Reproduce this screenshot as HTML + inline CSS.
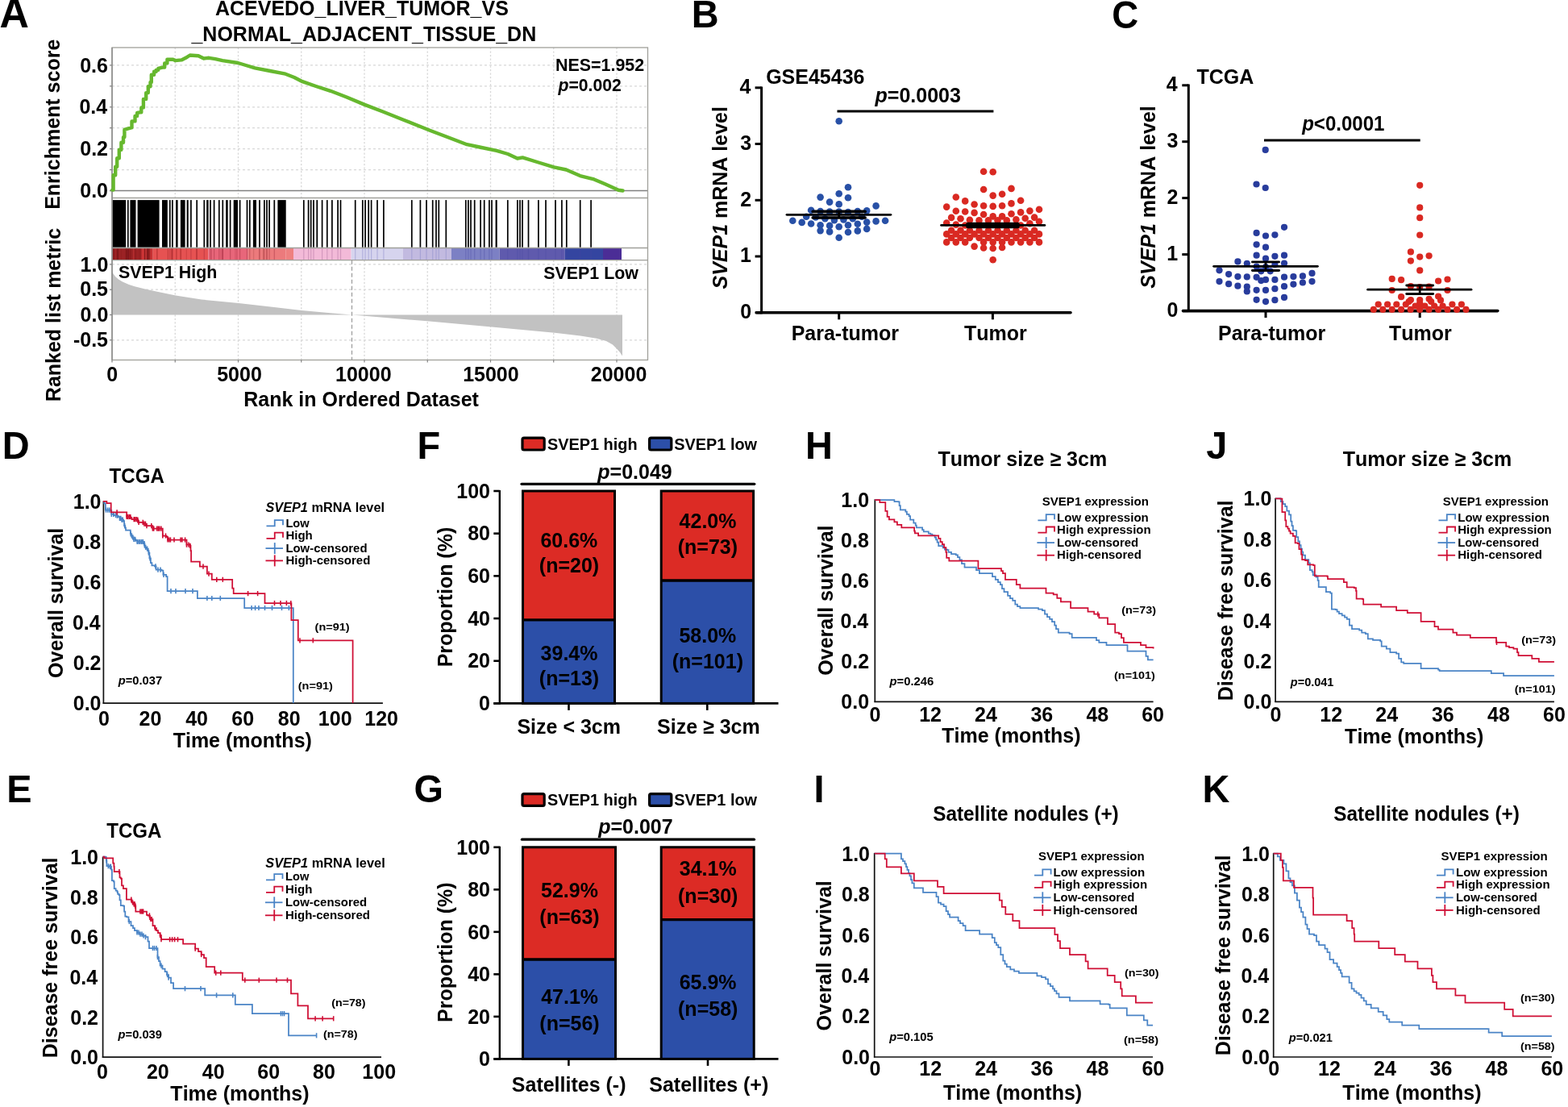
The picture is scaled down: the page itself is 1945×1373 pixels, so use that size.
<!DOCTYPE html>
<html><head><meta charset="utf-8"><title>Figure</title>
<style>
html,body{margin:0;padding:0;background:#fff;overflow:hidden;}
svg{display:block;}
text{font-family:"Liberation Sans",Arial,Helvetica,sans-serif;font-weight:bold;font-kerning:none;}
</style></head>
<body>
<svg width="1945" height="1373" viewBox="0 0 1945 1373">
<rect x="0" y="0" width="1945" height="1373" fill="#fff"/>
<g id="A">
<text transform="translate(-0.55 34.40) scale(1.0000 1.040)" font-size="50.38">A</text>
<text transform="translate(266.94 19.00) scale(1.0000 1.040)" font-size="25.00">ACEVEDO_LIVER_TUMOR_VS</text>
<text transform="translate(237.44 50.80) scale(1.0000 1.040)" font-size="25.00">_NORMAL_ADJACENT_TISSUE_DN</text>
<line x1="217.25" y1="59.00" x2="217.25" y2="245.50" stroke="#d8d8d8" stroke-width="1.30" stroke-dasharray="2.2 2.3"/>
<line x1="217.25" y1="322.70" x2="217.25" y2="446.50" stroke="#d8d8d8" stroke-width="1.30" stroke-dasharray="2.2 2.3"/>
<line x1="295.50" y1="59.00" x2="295.50" y2="245.50" stroke="#d8d8d8" stroke-width="1.30" stroke-dasharray="2.2 2.3"/>
<line x1="295.50" y1="322.70" x2="295.50" y2="446.50" stroke="#d8d8d8" stroke-width="1.30" stroke-dasharray="2.2 2.3"/>
<line x1="373.75" y1="59.00" x2="373.75" y2="245.50" stroke="#d8d8d8" stroke-width="1.30" stroke-dasharray="2.2 2.3"/>
<line x1="373.75" y1="322.70" x2="373.75" y2="446.50" stroke="#d8d8d8" stroke-width="1.30" stroke-dasharray="2.2 2.3"/>
<line x1="452.00" y1="59.00" x2="452.00" y2="245.50" stroke="#d8d8d8" stroke-width="1.30" stroke-dasharray="2.2 2.3"/>
<line x1="452.00" y1="322.70" x2="452.00" y2="446.50" stroke="#d8d8d8" stroke-width="1.30" stroke-dasharray="2.2 2.3"/>
<line x1="530.25" y1="59.00" x2="530.25" y2="245.50" stroke="#d8d8d8" stroke-width="1.30" stroke-dasharray="2.2 2.3"/>
<line x1="530.25" y1="322.70" x2="530.25" y2="446.50" stroke="#d8d8d8" stroke-width="1.30" stroke-dasharray="2.2 2.3"/>
<line x1="608.50" y1="59.00" x2="608.50" y2="245.50" stroke="#d8d8d8" stroke-width="1.30" stroke-dasharray="2.2 2.3"/>
<line x1="608.50" y1="322.70" x2="608.50" y2="446.50" stroke="#d8d8d8" stroke-width="1.30" stroke-dasharray="2.2 2.3"/>
<line x1="686.75" y1="59.00" x2="686.75" y2="245.50" stroke="#d8d8d8" stroke-width="1.30" stroke-dasharray="2.2 2.3"/>
<line x1="686.75" y1="322.70" x2="686.75" y2="446.50" stroke="#d8d8d8" stroke-width="1.30" stroke-dasharray="2.2 2.3"/>
<line x1="765.00" y1="59.00" x2="765.00" y2="245.50" stroke="#d8d8d8" stroke-width="1.30" stroke-dasharray="2.2 2.3"/>
<line x1="765.00" y1="322.70" x2="765.00" y2="446.50" stroke="#d8d8d8" stroke-width="1.30" stroke-dasharray="2.2 2.3"/>
<line x1="139.00" y1="210.57" x2="803.50" y2="210.57" stroke="#d8d8d8" stroke-width="1.30" stroke-dasharray="3 3"/>
<line x1="139.00" y1="184.64" x2="803.50" y2="184.64" stroke="#d8d8d8" stroke-width="1.30" stroke-dasharray="3 3"/>
<line x1="139.00" y1="158.71" x2="803.50" y2="158.71" stroke="#d8d8d8" stroke-width="1.30" stroke-dasharray="3 3"/>
<line x1="139.00" y1="132.78" x2="803.50" y2="132.78" stroke="#d8d8d8" stroke-width="1.30" stroke-dasharray="3 3"/>
<line x1="139.00" y1="106.85" x2="803.50" y2="106.85" stroke="#d8d8d8" stroke-width="1.30" stroke-dasharray="3 3"/>
<line x1="139.00" y1="80.92" x2="803.50" y2="80.92" stroke="#d8d8d8" stroke-width="1.30" stroke-dasharray="3 3"/>
<line x1="139.00" y1="327.90" x2="803.50" y2="327.90" stroke="#d8d8d8" stroke-width="1.30" stroke-dasharray="3 3"/>
<line x1="139.00" y1="359.20" x2="803.50" y2="359.20" stroke="#d8d8d8" stroke-width="1.30" stroke-dasharray="3 3"/>
<line x1="139.00" y1="421.80" x2="803.50" y2="421.80" stroke="#d8d8d8" stroke-width="1.30" stroke-dasharray="3 3"/>
<line x1="136.00" y1="236.50" x2="803.50" y2="236.50" stroke="#808080" stroke-width="1.30"/>
<rect x="139.10" y="248.10" width="17.10" height="58.70" fill="#000"/>
<rect x="161.40" y="248.10" width="7.10" height="58.70" fill="#000"/>
<rect x="170.60" y="248.10" width="27.00" height="58.70" fill="#000"/>
<rect x="201.00" y="248.10" width="6.80" height="58.70" fill="#000"/>
<rect x="218.10" y="248.10" width="2.50" height="58.70" fill="#000"/>
<rect x="223.90" y="248.10" width="5.70" height="58.70" fill="#000"/>
<rect x="231.70" y="248.10" width="2.00" height="58.70" fill="#000"/>
<rect x="256.20" y="248.10" width="2.40" height="58.70" fill="#000"/>
<rect x="280.20" y="248.10" width="2.50" height="58.70" fill="#000"/>
<rect x="289.70" y="248.10" width="5.30" height="58.70" fill="#000"/>
<rect x="313.90" y="248.10" width="4.10" height="58.70" fill="#000"/>
<rect x="344.40" y="248.10" width="10.30" height="58.70" fill="#000"/>
<rect x="392.40" y="248.10" width="1.80" height="58.70" fill="#000"/>
<rect x="614.60" y="248.10" width="2.10" height="58.70" fill="#000"/>
<rect x="157.95" y="248.10" width="1.70" height="58.70" fill="#000"/>
<rect x="209.95" y="248.10" width="1.70" height="58.70" fill="#000"/>
<rect x="213.05" y="248.10" width="1.70" height="58.70" fill="#000"/>
<rect x="236.05" y="248.10" width="1.70" height="58.70" fill="#000"/>
<rect x="243.35" y="248.10" width="1.70" height="58.70" fill="#000"/>
<rect x="252.45" y="248.10" width="1.70" height="58.70" fill="#000"/>
<rect x="260.15" y="248.10" width="1.70" height="58.70" fill="#000"/>
<rect x="264.75" y="248.10" width="1.70" height="58.70" fill="#000"/>
<rect x="270.95" y="248.10" width="1.70" height="58.70" fill="#000"/>
<rect x="275.45" y="248.10" width="1.70" height="58.70" fill="#000"/>
<rect x="284.75" y="248.10" width="1.70" height="58.70" fill="#000"/>
<rect x="296.75" y="248.10" width="1.70" height="58.70" fill="#000"/>
<rect x="305.65" y="248.10" width="1.70" height="58.70" fill="#000"/>
<rect x="308.95" y="248.10" width="1.70" height="58.70" fill="#000"/>
<rect x="321.15" y="248.10" width="1.70" height="58.70" fill="#000"/>
<rect x="327.05" y="248.10" width="1.70" height="58.70" fill="#000"/>
<rect x="330.15" y="248.10" width="1.70" height="58.70" fill="#000"/>
<rect x="333.25" y="248.10" width="1.70" height="58.70" fill="#000"/>
<rect x="339.45" y="248.10" width="1.70" height="58.70" fill="#000"/>
<rect x="375.95" y="248.10" width="1.70" height="58.70" fill="#000"/>
<rect x="381.75" y="248.10" width="1.70" height="58.70" fill="#000"/>
<rect x="384.85" y="248.10" width="1.70" height="58.70" fill="#000"/>
<rect x="388.15" y="248.10" width="1.70" height="58.70" fill="#000"/>
<rect x="398.75" y="248.10" width="1.70" height="58.70" fill="#000"/>
<rect x="404.95" y="248.10" width="1.70" height="58.70" fill="#000"/>
<rect x="411.05" y="248.10" width="1.70" height="58.70" fill="#000"/>
<rect x="418.25" y="248.10" width="1.70" height="58.70" fill="#000"/>
<rect x="421.65" y="248.10" width="1.70" height="58.70" fill="#000"/>
<rect x="439.85" y="248.10" width="1.70" height="58.70" fill="#000"/>
<rect x="448.95" y="248.10" width="1.70" height="58.70" fill="#000"/>
<rect x="452.25" y="248.10" width="1.70" height="58.70" fill="#000"/>
<rect x="456.35" y="248.10" width="1.70" height="58.70" fill="#000"/>
<rect x="459.75" y="248.10" width="1.70" height="58.70" fill="#000"/>
<rect x="467.15" y="248.10" width="1.70" height="58.70" fill="#000"/>
<rect x="475.05" y="248.10" width="1.70" height="58.70" fill="#000"/>
<rect x="509.95" y="248.10" width="1.70" height="58.70" fill="#000"/>
<rect x="520.55" y="248.10" width="1.70" height="58.70" fill="#000"/>
<rect x="528.15" y="248.10" width="1.70" height="58.70" fill="#000"/>
<rect x="535.85" y="248.10" width="1.70" height="58.70" fill="#000"/>
<rect x="540.15" y="248.10" width="1.70" height="58.70" fill="#000"/>
<rect x="543.45" y="248.10" width="1.70" height="58.70" fill="#000"/>
<rect x="552.45" y="248.10" width="1.70" height="58.70" fill="#000"/>
<rect x="576.95" y="248.10" width="1.70" height="58.70" fill="#000"/>
<rect x="580.05" y="248.10" width="1.70" height="58.70" fill="#000"/>
<rect x="583.15" y="248.10" width="1.70" height="58.70" fill="#000"/>
<rect x="587.85" y="248.10" width="1.70" height="58.70" fill="#000"/>
<rect x="595.25" y="248.10" width="1.70" height="58.70" fill="#000"/>
<rect x="599.85" y="248.10" width="1.70" height="58.70" fill="#000"/>
<rect x="606.05" y="248.10" width="1.70" height="58.70" fill="#000"/>
<rect x="609.15" y="248.10" width="1.70" height="58.70" fill="#000"/>
<rect x="628.95" y="248.10" width="1.70" height="58.70" fill="#000"/>
<rect x="641.05" y="248.10" width="1.70" height="58.70" fill="#000"/>
<rect x="644.15" y="248.10" width="1.70" height="58.70" fill="#000"/>
<rect x="647.15" y="248.10" width="1.70" height="58.70" fill="#000"/>
<rect x="654.65" y="248.10" width="1.70" height="58.70" fill="#000"/>
<rect x="667.05" y="248.10" width="1.70" height="58.70" fill="#000"/>
<rect x="676.15" y="248.10" width="1.70" height="58.70" fill="#000"/>
<rect x="688.15" y="248.10" width="1.70" height="58.70" fill="#000"/>
<rect x="696.05" y="248.10" width="1.70" height="58.70" fill="#000"/>
<rect x="701.95" y="248.10" width="1.70" height="58.70" fill="#000"/>
<rect x="718.85" y="248.10" width="1.70" height="58.70" fill="#000"/>
<rect x="732.25" y="248.10" width="1.70" height="58.70" fill="#000"/>
<rect x="139.00" y="307.50" width="50.30" height="15.20" fill="#ad2a2c"/>
<rect x="189.30" y="307.50" width="69.20" height="15.20" fill="#e65252"/>
<rect x="258.50" y="307.50" width="49.30" height="15.20" fill="#e8667a"/>
<rect x="307.80" y="307.50" width="46.90" height="15.20" fill="#ec7a7c"/>
<rect x="354.70" y="307.50" width="9.30" height="15.20" fill="#ee8080"/>
<rect x="364.00" y="307.50" width="71.60" height="15.20" fill="#f3bad8"/>
<rect x="435.60" y="307.50" width="64.00" height="15.20" fill="#d6d4ee"/>
<rect x="499.60" y="307.50" width="60.30" height="15.20" fill="#c2bae0"/>
<rect x="559.90" y="307.50" width="59.70" height="15.20" fill="#7c80c4"/>
<rect x="619.60" y="307.50" width="81.20" height="15.20" fill="#5f5aad"/>
<rect x="700.80" y="307.50" width="47.20" height="15.20" fill="#3445a0"/>
<rect x="748.00" y="307.50" width="23.00" height="15.20" fill="#4b2d96"/>
<rect x="139.00" y="307.50" width="1.38" height="15.20" fill="#8e1c1e"/>
<rect x="140.38" y="307.50" width="1.51" height="15.20" fill="#7e1618"/>
<rect x="141.89" y="307.50" width="0.93" height="15.20" fill="#9a2224"/>
<rect x="142.82" y="307.50" width="0.97" height="15.20" fill="#9a2224"/>
<rect x="143.79" y="307.50" width="0.90" height="15.20" fill="#9a2224"/>
<rect x="144.70" y="307.50" width="1.19" height="15.20" fill="#7e1618"/>
<rect x="145.88" y="307.50" width="1.58" height="15.20" fill="#7e1618"/>
<rect x="147.46" y="307.50" width="1.23" height="15.20" fill="#9a2224"/>
<rect x="148.70" y="307.50" width="1.56" height="15.20" fill="#9a2224"/>
<rect x="150.26" y="307.50" width="1.02" height="15.20" fill="#8e1c1e"/>
<rect x="151.28" y="307.50" width="1.94" height="15.20" fill="#9a2224"/>
<rect x="153.22" y="307.50" width="2.51" height="15.20" fill="#9a2224"/>
<rect x="155.73" y="307.50" width="1.85" height="15.20" fill="#7e1618"/>
<rect x="157.58" y="307.50" width="2.56" height="15.20" fill="#7e1618"/>
<rect x="160.14" y="307.50" width="1.80" height="15.20" fill="#8e1c1e"/>
<rect x="161.94" y="307.50" width="1.32" height="15.20" fill="#8e1c1e"/>
<rect x="163.26" y="307.50" width="1.77" height="15.20" fill="#9a2224"/>
<rect x="165.03" y="307.50" width="1.36" height="15.20" fill="#b83030"/>
<rect x="166.39" y="307.50" width="1.13" height="15.20" fill="#9a2224"/>
<rect x="167.51" y="307.50" width="1.83" height="15.20" fill="#8e1c1e"/>
<rect x="169.34" y="307.50" width="1.47" height="15.20" fill="#9a2224"/>
<rect x="170.81" y="307.50" width="2.08" height="15.20" fill="#9a2224"/>
<rect x="172.89" y="307.50" width="0.91" height="15.20" fill="#8e1c1e"/>
<rect x="173.80" y="307.50" width="1.69" height="15.20" fill="#9a2224"/>
<rect x="175.50" y="307.50" width="1.57" height="15.20" fill="#c83234"/>
<rect x="177.07" y="307.50" width="1.64" height="15.20" fill="#d83a3a"/>
<rect x="178.70" y="307.50" width="1.45" height="15.20" fill="#8e1c1e"/>
<rect x="180.15" y="307.50" width="2.23" height="15.20" fill="#b83030"/>
<rect x="182.38" y="307.50" width="2.20" height="15.20" fill="#7e1618"/>
<rect x="184.59" y="307.50" width="1.83" height="15.20" fill="#9a2224"/>
<rect x="186.42" y="307.50" width="1.69" height="15.20" fill="#c83234"/>
<rect x="188.11" y="307.50" width="1.19" height="15.20" fill="#c83234"/>
<rect x="230.83" y="307.50" width="0.77" height="15.20" fill="#a82a2a" opacity="0.50"/>
<rect x="224.21" y="307.50" width="0.85" height="15.20" fill="#a82a2a" opacity="0.50"/>
<rect x="212.63" y="307.50" width="1.54" height="15.20" fill="#a82a2a" opacity="0.50"/>
<rect x="218.06" y="307.50" width="1.57" height="15.20" fill="#a82a2a" opacity="0.50"/>
<rect x="194.59" y="307.50" width="1.20" height="15.20" fill="#a82a2a" opacity="0.50"/>
<rect x="243.12" y="307.50" width="1.44" height="15.20" fill="#a82a2a" opacity="0.50"/>
<rect x="212.50" y="307.50" width="1.02" height="15.20" fill="#a82a2a" opacity="0.50"/>
<rect x="223.17" y="307.50" width="1.42" height="15.20" fill="#a82a2a" opacity="0.50"/>
<rect x="193.99" y="307.50" width="0.78" height="15.20" fill="#a82a2a" opacity="0.50"/>
<rect x="207.71" y="307.50" width="1.33" height="15.20" fill="#a82a2a" opacity="0.50"/>
<rect x="261.64" y="307.50" width="1.36" height="15.20" fill="#b83c50" opacity="0.45"/>
<rect x="273.45" y="307.50" width="1.22" height="15.20" fill="#b83c50" opacity="0.45"/>
<rect x="291.40" y="307.50" width="1.10" height="15.20" fill="#b83c50" opacity="0.45"/>
<rect x="293.11" y="307.50" width="1.50" height="15.20" fill="#b83c50" opacity="0.45"/>
<rect x="275.26" y="307.50" width="1.55" height="15.20" fill="#b83c50" opacity="0.45"/>
<rect x="275.67" y="307.50" width="1.25" height="15.20" fill="#b83c50" opacity="0.45"/>
<rect x="330.46" y="307.50" width="0.90" height="15.20" fill="#b85050" opacity="0.45"/>
<rect x="320.99" y="307.50" width="1.36" height="15.20" fill="#b85050" opacity="0.45"/>
<rect x="326.06" y="307.50" width="1.53" height="15.20" fill="#b85050" opacity="0.45"/>
<rect x="330.59" y="307.50" width="0.85" height="15.20" fill="#b85050" opacity="0.45"/>
<rect x="326.24" y="307.50" width="0.95" height="15.20" fill="#b85050" opacity="0.45"/>
<rect x="314.08" y="307.50" width="1.09" height="15.20" fill="#b85050" opacity="0.45"/>
<rect x="158.20" y="307.50" width="1.20" height="15.20" fill="#902030" opacity="0.35"/>
<rect x="210.20" y="307.50" width="1.20" height="15.20" fill="#902030" opacity="0.35"/>
<rect x="213.30" y="307.50" width="1.20" height="15.20" fill="#902030" opacity="0.35"/>
<rect x="236.30" y="307.50" width="1.20" height="15.20" fill="#902030" opacity="0.35"/>
<rect x="243.60" y="307.50" width="1.20" height="15.20" fill="#902030" opacity="0.35"/>
<rect x="252.70" y="307.50" width="1.20" height="15.20" fill="#902030" opacity="0.35"/>
<rect x="260.40" y="307.50" width="1.20" height="15.20" fill="#902030" opacity="0.35"/>
<rect x="265.00" y="307.50" width="1.20" height="15.20" fill="#902030" opacity="0.35"/>
<rect x="271.20" y="307.50" width="1.20" height="15.20" fill="#902030" opacity="0.35"/>
<rect x="275.70" y="307.50" width="1.20" height="15.20" fill="#902030" opacity="0.35"/>
<rect x="285.00" y="307.50" width="1.20" height="15.20" fill="#902030" opacity="0.35"/>
<rect x="297.00" y="307.50" width="1.20" height="15.20" fill="#902030" opacity="0.35"/>
<rect x="305.90" y="307.50" width="1.20" height="15.20" fill="#902030" opacity="0.35"/>
<rect x="309.20" y="307.50" width="1.20" height="15.20" fill="#902030" opacity="0.35"/>
<rect x="321.40" y="307.50" width="1.20" height="15.20" fill="#902030" opacity="0.35"/>
<rect x="327.30" y="307.50" width="1.20" height="15.20" fill="#902030" opacity="0.35"/>
<rect x="330.40" y="307.50" width="1.20" height="15.20" fill="#902030" opacity="0.35"/>
<rect x="333.50" y="307.50" width="1.20" height="15.20" fill="#902030" opacity="0.35"/>
<rect x="339.70" y="307.50" width="1.20" height="15.20" fill="#902030" opacity="0.35"/>
<rect x="376.20" y="307.50" width="1.20" height="15.20" fill="#b070a0" opacity="0.45"/>
<rect x="382.00" y="307.50" width="1.20" height="15.20" fill="#b070a0" opacity="0.45"/>
<rect x="385.10" y="307.50" width="1.20" height="15.20" fill="#b070a0" opacity="0.45"/>
<rect x="388.40" y="307.50" width="1.20" height="15.20" fill="#b070a0" opacity="0.45"/>
<rect x="399.00" y="307.50" width="1.20" height="15.20" fill="#b070a0" opacity="0.45"/>
<rect x="405.20" y="307.50" width="1.20" height="15.20" fill="#b070a0" opacity="0.45"/>
<rect x="411.30" y="307.50" width="1.20" height="15.20" fill="#b070a0" opacity="0.45"/>
<rect x="418.50" y="307.50" width="1.20" height="15.20" fill="#b070a0" opacity="0.45"/>
<rect x="421.90" y="307.50" width="1.20" height="15.20" fill="#b070a0" opacity="0.45"/>
<rect x="440.10" y="307.50" width="1.20" height="15.20" fill="#8888c8" opacity="0.45"/>
<rect x="449.20" y="307.50" width="1.20" height="15.20" fill="#8888c8" opacity="0.45"/>
<rect x="452.50" y="307.50" width="1.20" height="15.20" fill="#8888c8" opacity="0.45"/>
<rect x="456.60" y="307.50" width="1.20" height="15.20" fill="#8888c8" opacity="0.45"/>
<rect x="460.00" y="307.50" width="1.20" height="15.20" fill="#8888c8" opacity="0.45"/>
<rect x="467.40" y="307.50" width="1.20" height="15.20" fill="#8888c8" opacity="0.45"/>
<rect x="475.30" y="307.50" width="1.20" height="15.20" fill="#8888c8" opacity="0.45"/>
<rect x="510.20" y="307.50" width="1.20" height="15.20" fill="#8888c8" opacity="0.45"/>
<rect x="520.80" y="307.50" width="1.20" height="15.20" fill="#8888c8" opacity="0.45"/>
<rect x="528.40" y="307.50" width="1.20" height="15.20" fill="#8888c8" opacity="0.45"/>
<rect x="536.10" y="307.50" width="1.20" height="15.20" fill="#8888c8" opacity="0.45"/>
<rect x="540.40" y="307.50" width="1.20" height="15.20" fill="#8888c8" opacity="0.45"/>
<rect x="543.70" y="307.50" width="1.20" height="15.20" fill="#8888c8" opacity="0.45"/>
<rect x="552.70" y="307.50" width="1.20" height="15.20" fill="#8888c8" opacity="0.45"/>
<rect x="577.20" y="307.50" width="1.20" height="15.20" fill="#4848a0" opacity="0.35"/>
<rect x="580.30" y="307.50" width="1.20" height="15.20" fill="#4848a0" opacity="0.35"/>
<rect x="583.40" y="307.50" width="1.20" height="15.20" fill="#4848a0" opacity="0.35"/>
<rect x="588.10" y="307.50" width="1.20" height="15.20" fill="#4848a0" opacity="0.35"/>
<rect x="595.50" y="307.50" width="1.20" height="15.20" fill="#4848a0" opacity="0.35"/>
<rect x="600.10" y="307.50" width="1.20" height="15.20" fill="#4848a0" opacity="0.35"/>
<rect x="606.30" y="307.50" width="1.20" height="15.20" fill="#4848a0" opacity="0.35"/>
<rect x="609.40" y="307.50" width="1.20" height="15.20" fill="#4848a0" opacity="0.35"/>
<rect x="629.20" y="307.50" width="1.20" height="15.20" fill="#4848a0" opacity="0.35"/>
<rect x="641.30" y="307.50" width="1.20" height="15.20" fill="#4848a0" opacity="0.35"/>
<rect x="644.40" y="307.50" width="1.20" height="15.20" fill="#4848a0" opacity="0.35"/>
<rect x="647.40" y="307.50" width="1.20" height="15.20" fill="#4848a0" opacity="0.35"/>
<rect x="654.90" y="307.50" width="1.20" height="15.20" fill="#4848a0" opacity="0.35"/>
<rect x="667.30" y="307.50" width="1.20" height="15.20" fill="#4848a0" opacity="0.35"/>
<rect x="676.40" y="307.50" width="1.20" height="15.20" fill="#4848a0" opacity="0.35"/>
<rect x="688.40" y="307.50" width="1.20" height="15.20" fill="#4848a0" opacity="0.35"/>
<rect x="696.30" y="307.50" width="1.20" height="15.20" fill="#4848a0" opacity="0.35"/>
<rect x="702.20" y="307.50" width="1.20" height="15.20" fill="#4848a0" opacity="0.35"/>
<rect x="719.10" y="307.50" width="1.20" height="15.20" fill="#4848a0" opacity="0.35"/>
<rect x="732.50" y="307.50" width="1.20" height="15.20" fill="#4848a0" opacity="0.35"/>
<polygon points="139.0,337.0 140.5,339.5 143.0,343.0 147.0,346.5 152.0,349.5 160.0,353.0 167.0,355.3 180.0,358.5 195.0,361.8 218.0,366.5 250.0,371.5 296.0,376.0 340.0,381.0 374.0,385.0 410.0,388.3 436.5,390.5 452.0,391.8 530.0,398.3 610.0,405.6 688.0,412.8 720.0,416.5 740.0,419.8 752.0,423.0 760.0,427.5 765.0,432.5 769.0,437.0 772.0,441.6 772.0,390.5 139.0,390.5" fill="#c2c2c2"/>
<line x1="436.50" y1="322.70" x2="436.50" y2="446.50" stroke="#9a9a9a" stroke-width="1.20" stroke-dasharray="5 3"/>
<rect x="139.0" y="59.0" width="664.5" height="387.5" fill="none" stroke="#a0a09a" stroke-width="1.3"/>
<line x1="139.00" y1="245.50" x2="803.50" y2="245.50" stroke="#a0a09a" stroke-width="1.30"/>
<line x1="139.00" y1="307.50" x2="803.50" y2="307.50" stroke="#a0a09a" stroke-width="1.30"/>
<line x1="139.00" y1="322.70" x2="803.50" y2="322.70" stroke="#a0a09a" stroke-width="1.30"/>
<line x1="139.00" y1="59.00" x2="139.00" y2="446.50" stroke="#8a8a8a" stroke-width="1.40"/>
<line x1="136.00" y1="236.50" x2="139.00" y2="236.50" stroke="#808080" stroke-width="1.20"/>
<line x1="136.00" y1="210.57" x2="139.00" y2="210.57" stroke="#808080" stroke-width="1.20"/>
<line x1="136.00" y1="184.64" x2="139.00" y2="184.64" stroke="#808080" stroke-width="1.20"/>
<line x1="136.00" y1="158.71" x2="139.00" y2="158.71" stroke="#808080" stroke-width="1.20"/>
<line x1="136.00" y1="132.78" x2="139.00" y2="132.78" stroke="#808080" stroke-width="1.20"/>
<line x1="136.00" y1="106.85" x2="139.00" y2="106.85" stroke="#808080" stroke-width="1.20"/>
<line x1="136.00" y1="80.92" x2="139.00" y2="80.92" stroke="#808080" stroke-width="1.20"/>
<line x1="136.00" y1="327.90" x2="139.00" y2="327.90" stroke="#808080" stroke-width="1.20"/>
<line x1="136.00" y1="359.20" x2="139.00" y2="359.20" stroke="#808080" stroke-width="1.20"/>
<line x1="136.00" y1="390.50" x2="139.00" y2="390.50" stroke="#808080" stroke-width="1.20"/>
<line x1="136.00" y1="421.80" x2="139.00" y2="421.80" stroke="#808080" stroke-width="1.20"/>
<line x1="139.00" y1="446.50" x2="139.00" y2="449.50" stroke="#808080" stroke-width="1.20"/>
<line x1="217.25" y1="446.50" x2="217.25" y2="449.50" stroke="#808080" stroke-width="1.20"/>
<line x1="295.50" y1="446.50" x2="295.50" y2="449.50" stroke="#808080" stroke-width="1.20"/>
<line x1="373.75" y1="446.50" x2="373.75" y2="449.50" stroke="#808080" stroke-width="1.20"/>
<line x1="452.00" y1="446.50" x2="452.00" y2="449.50" stroke="#808080" stroke-width="1.20"/>
<line x1="530.25" y1="446.50" x2="530.25" y2="449.50" stroke="#808080" stroke-width="1.20"/>
<line x1="608.50" y1="446.50" x2="608.50" y2="449.50" stroke="#808080" stroke-width="1.20"/>
<line x1="686.75" y1="446.50" x2="686.75" y2="449.50" stroke="#808080" stroke-width="1.20"/>
<line x1="765.00" y1="446.50" x2="765.00" y2="449.50" stroke="#808080" stroke-width="1.20"/>
<polyline points="139.30,235.60 140.60,235.60 140.60,217.30 143.20,217.30 143.20,206.80 145.20,206.80 145.20,196.30 147.80,196.30 147.80,185.80 150.40,185.80 150.40,176.70 153.00,176.70 153.00,170.10 154.40,170.10 154.40,160.90 158.30,159.60 162.90,158.30 163.50,158.30 163.50,150.40 167.50,150.40 167.50,143.90 170.10,143.90 170.10,140.00 173.40,139.30 175.30,139.30 175.30,133.40 177.90,133.40 177.90,122.90 181.20,122.90 181.20,115.10 183.80,115.10 183.80,107.20 186.50,107.20 186.50,101.90 187.80,101.90 187.80,92.80 191.10,92.80 191.10,88.80 193.70,88.80 193.70,86.85 196.30,86.85 196.30,84.90 201.50,83.60 204.20,83.60 204.20,78.40 207.40,78.40 207.40,73.80 214.60,73.80 217.30,75.10 225.10,74.40 230.40,71.80 235.60,68.50 246.10,69.20 252.70,72.50 259.20,71.80 267.10,73.10 276.00,75.10 295.10,78.00 305.00,81.00 316.20,84.30 335.00,88.00 354.10,91.70 365.00,96.00 375.20,101.20 392.00,107.00 410.00,112.80 430.00,120.50 451.80,129.60 475.00,138.50 500.00,148.50 533.90,162.00 555.00,170.00 579.20,179.20 595.00,182.50 616.00,186.80 630.00,191.00 641.80,196.50 648.30,195.40 668.00,201.50 687.20,207.30 702.30,210.50 719.60,218.10 736.90,222.40 750.00,228.00 760.00,232.50 767.10,235.80 772.50,236.50" fill="none" stroke="#66b82e" stroke-width="4.40" stroke-linejoin="round" stroke-linecap="round"/>
<text transform="translate(99.15 89.52) scale(1.0000 1.040)" font-size="25.00">0.6</text>
<text transform="translate(98.38 141.38) scale(1.0000 1.040)" font-size="25.00">0.4</text>
<text transform="translate(99.25 193.24) scale(1.0000 1.040)" font-size="25.00">0.2</text>
<text transform="translate(99.27 245.10) scale(1.0000 1.040)" font-size="25.00">0.0</text>
<text transform="translate(99.57 336.50) scale(1.0000 1.040)" font-size="25.00">1.0</text>
<text transform="translate(99.24 367.00) scale(1.0000 1.040)" font-size="25.00">0.5</text>
<text transform="translate(99.57 398.70) scale(1.0000 1.040)" font-size="25.00">0.0</text>
<text transform="translate(90.92 429.80) scale(1.0000 1.040)" font-size="25.00">-0.5</text>
<text transform="translate(132.17 472.80) scale(1.0000 1.040)" font-size="25.00">0</text>
<text transform="translate(269.22 472.80) scale(1.0000 1.040)" font-size="25.00">5000</text>
<text transform="translate(416.07 472.80) scale(1.0000 1.040)" font-size="25.00">10000</text>
<text transform="translate(574.17 472.80) scale(1.0000 1.040)" font-size="25.00">15000</text>
<text transform="translate(732.82 472.80) scale(1.0000 1.040)" font-size="25.00">20000</text>
<text transform="translate(302.24 503.70) scale(1.0000 1.040)" font-size="25.00">Rank in Ordered Dataset</text>
<text transform="translate(74.40 259.85) rotate(-90) scale(1 1.040)" font-size="25.00">Enrichment score</text>
<text transform="translate(74.50 498.15) rotate(-90) scale(1 1.040)" font-size="25.00">Ranked list metric</text>
<text transform="translate(689.09 87.50) scale(1.0000 1.040)" font-size="21.40">NES=1.952</text>
<text transform="translate(692.47 112.70) scale(1.0000 1.040)" font-size="21.20"><tspan style="font-style:italic">p</tspan>=0.002</text>
<text transform="translate(146.88 344.50) scale(1.0000 1.040)" font-size="21.40">SVEP1 High</text>
<text transform="translate(674.23 346.40) scale(1.0000 1.040)" font-size="21.40">SVEP1 Low</text>
</g>
<g id="B">
<text transform="translate(857.66 34.20) scale(1.0000 1.040)" font-size="46.90">B</text>
<text transform="translate(950.18 103.90) scale(1.0000 1.040)" font-size="25.00">GSE45436</text>
<text transform="translate(1085.56 127.10) scale(1.0000 1.040)" font-size="25.00"><tspan style="font-style:italic">p</tspan>=0.0003</text>
<line x1="1038.50" y1="138.00" x2="1232.40" y2="138.00" stroke="#000" stroke-width="2.80"/>
<line x1="944.60" y1="107.50" x2="944.60" y2="389.30" stroke="#000" stroke-width="3.00"/>
<line x1="936.60" y1="108.80" x2="944.60" y2="108.80" stroke="#000" stroke-width="3.00"/>
<text transform="translate(917.43 116.10) scale(1.0000 1.040)" font-size="25.00">4</text>
<line x1="936.60" y1="178.50" x2="944.60" y2="178.50" stroke="#000" stroke-width="3.00"/>
<text transform="translate(918.20 185.80) scale(1.0000 1.040)" font-size="25.00">3</text>
<line x1="936.60" y1="248.30" x2="944.60" y2="248.30" stroke="#000" stroke-width="3.00"/>
<text transform="translate(918.30 255.60) scale(1.0000 1.040)" font-size="25.00">2</text>
<line x1="936.60" y1="318.00" x2="944.60" y2="318.00" stroke="#000" stroke-width="3.00"/>
<text transform="translate(917.99 325.30) scale(1.0000 1.040)" font-size="25.00">1</text>
<line x1="936.60" y1="387.80" x2="944.60" y2="387.80" stroke="#000" stroke-width="3.00"/>
<text transform="translate(918.32 395.10) scale(1.0000 1.040)" font-size="25.00">0</text>
<line x1="938.50" y1="387.80" x2="1328.00" y2="387.80" stroke="#000" stroke-width="3.60" stroke-linecap="round"/>
<line x1="1040.70" y1="387.80" x2="1040.70" y2="396.30" stroke="#000" stroke-width="3.00"/>
<line x1="1231.40" y1="387.80" x2="1231.40" y2="396.30" stroke="#000" stroke-width="3.00"/>
<text transform="translate(981.67 421.50) scale(1.0000 1.040)" font-size="25.00">Para-tumor</text>
<text transform="translate(1196.06 421.50) scale(1.0000 1.040)" font-size="25.00">Tumor</text>
<text transform="translate(902.40 358.51) rotate(-90) scale(1 1.040)" font-size="25.00"><tspan style="font-style:italic">SVEP1</tspan> mRNA level</text>
<circle cx="1040.70" cy="150.20" r="4.30" fill="#2850a6"/>
<circle cx="1052.00" cy="232.30" r="4.30" fill="#2850a6"/>
<circle cx="1040.70" cy="240.30" r="4.30" fill="#2850a6"/>
<circle cx="1017.60" cy="244.60" r="4.30" fill="#2850a6"/>
<circle cx="1052.00" cy="245.30" r="4.30" fill="#2850a6"/>
<circle cx="1029.10" cy="250.60" r="4.30" fill="#2850a6"/>
<circle cx="1040.70" cy="253.30" r="4.30" fill="#2850a6"/>
<circle cx="1086.60" cy="255.40" r="4.30" fill="#2850a6"/>
<circle cx="1006.10" cy="260.70" r="4.30" fill="#2850a6"/>
<circle cx="1017.60" cy="262.00" r="4.30" fill="#2850a6"/>
<circle cx="1029.10" cy="262.60" r="4.30" fill="#2850a6"/>
<circle cx="1063.80" cy="262.00" r="4.30" fill="#2850a6"/>
<circle cx="1075.20" cy="261.40" r="4.30" fill="#2850a6"/>
<circle cx="1040.70" cy="262.50" r="4.30" fill="#2850a6"/>
<circle cx="1052.00" cy="263.00" r="4.30" fill="#2850a6"/>
<circle cx="1000.20" cy="268.80" r="4.30" fill="#2850a6"/>
<circle cx="1011.80" cy="269.40" r="4.30" fill="#2850a6"/>
<circle cx="1023.40" cy="271.30" r="4.30" fill="#2850a6"/>
<circle cx="1034.90" cy="273.10" r="4.30" fill="#2850a6"/>
<circle cx="1046.40" cy="272.50" r="4.30" fill="#2850a6"/>
<circle cx="1057.80" cy="271.30" r="4.30" fill="#2850a6"/>
<circle cx="1069.00" cy="268.80" r="4.30" fill="#2850a6"/>
<circle cx="983.30" cy="273.70" r="4.30" fill="#2850a6"/>
<circle cx="994.70" cy="275.90" r="4.30" fill="#2850a6"/>
<circle cx="1006.10" cy="277.50" r="4.30" fill="#2850a6"/>
<circle cx="1017.60" cy="279.30" r="4.30" fill="#2850a6"/>
<circle cx="1029.10" cy="279.90" r="4.30" fill="#2850a6"/>
<circle cx="1040.70" cy="281.20" r="4.30" fill="#2850a6"/>
<circle cx="1052.00" cy="279.30" r="4.30" fill="#2850a6"/>
<circle cx="1063.80" cy="277.70" r="4.30" fill="#2850a6"/>
<circle cx="1075.20" cy="275.60" r="4.30" fill="#2850a6"/>
<circle cx="1086.60" cy="274.40" r="4.30" fill="#2850a6"/>
<circle cx="1098.10" cy="273.70" r="4.30" fill="#2850a6"/>
<circle cx="1017.60" cy="286.10" r="4.30" fill="#2850a6"/>
<circle cx="1029.10" cy="287.40" r="4.30" fill="#2850a6"/>
<circle cx="1052.00" cy="288.00" r="4.30" fill="#2850a6"/>
<circle cx="1063.80" cy="286.40" r="4.30" fill="#2850a6"/>
<circle cx="1075.20" cy="283.90" r="4.30" fill="#2850a6"/>
<circle cx="1040.70" cy="294.80" r="4.30" fill="#2850a6"/>
<circle cx="1220.10" cy="212.80" r="4.30" fill="#d92922"/>
<circle cx="1231.70" cy="213.30" r="4.30" fill="#d92922"/>
<circle cx="1220.10" cy="235.00" r="4.30" fill="#d92922"/>
<circle cx="1254.50" cy="233.90" r="4.30" fill="#d92922"/>
<circle cx="1231.70" cy="242.60" r="4.30" fill="#d92922"/>
<circle cx="1243.10" cy="240.70" r="4.30" fill="#d92922"/>
<circle cx="1185.80" cy="244.50" r="4.30" fill="#d92922"/>
<circle cx="1197.20" cy="249.40" r="4.30" fill="#d92922"/>
<circle cx="1266.10" cy="248.80" r="4.30" fill="#d92922"/>
<circle cx="1174.20" cy="256.60" r="4.30" fill="#d92922"/>
<circle cx="1208.60" cy="253.50" r="4.30" fill="#d92922"/>
<circle cx="1220.10" cy="255.20" r="4.30" fill="#d92922"/>
<circle cx="1231.70" cy="255.90" r="4.30" fill="#d92922"/>
<circle cx="1243.10" cy="255.20" r="4.30" fill="#d92922"/>
<circle cx="1254.50" cy="252.40" r="4.30" fill="#d92922"/>
<circle cx="1185.80" cy="261.70" r="4.30" fill="#d92922"/>
<circle cx="1197.20" cy="262.50" r="4.30" fill="#d92922"/>
<circle cx="1208.60" cy="263.90" r="4.30" fill="#d92922"/>
<circle cx="1266.10" cy="263.40" r="4.30" fill="#d92922"/>
<circle cx="1277.40" cy="261.60" r="4.30" fill="#d92922"/>
<circle cx="1289.00" cy="259.70" r="4.30" fill="#d92922"/>
<circle cx="1220.10" cy="266.00" r="4.30" fill="#d92922"/>
<circle cx="1254.50" cy="265.30" r="4.30" fill="#d92922"/>
<circle cx="1180.10" cy="269.90" r="4.30" fill="#d92922"/>
<circle cx="1191.50" cy="271.20" r="4.30" fill="#d92922"/>
<circle cx="1231.70" cy="268.40" r="4.30" fill="#d92922"/>
<circle cx="1243.10" cy="268.40" r="4.30" fill="#d92922"/>
<circle cx="1271.70" cy="270.80" r="4.30" fill="#d92922"/>
<circle cx="1283.10" cy="269.60" r="4.30" fill="#d92922"/>
<circle cx="1174.20" cy="276.50" r="4.30" fill="#d92922"/>
<circle cx="1202.90" cy="272.90" r="4.30" fill="#d92922"/>
<circle cx="1214.50" cy="273.40" r="4.30" fill="#d92922"/>
<circle cx="1226.00" cy="273.40" r="4.30" fill="#d92922"/>
<circle cx="1237.50" cy="273.40" r="4.30" fill="#d92922"/>
<circle cx="1248.80" cy="273.40" r="4.30" fill="#d92922"/>
<circle cx="1260.40" cy="272.40" r="4.30" fill="#d92922"/>
<circle cx="1289.00" cy="274.80" r="4.30" fill="#d92922"/>
<circle cx="1185.80" cy="278.60" r="4.30" fill="#d92922"/>
<circle cx="1197.20" cy="279.50" r="4.30" fill="#d92922"/>
<circle cx="1266.10" cy="279.50" r="4.30" fill="#d92922"/>
<circle cx="1277.40" cy="277.20" r="4.30" fill="#d92922"/>
<circle cx="1180.10" cy="285.80" r="4.30" fill="#d92922"/>
<circle cx="1191.50" cy="285.80" r="4.30" fill="#d92922"/>
<circle cx="1202.90" cy="285.80" r="4.30" fill="#d92922"/>
<circle cx="1214.50" cy="285.80" r="4.30" fill="#d92922"/>
<circle cx="1226.00" cy="285.80" r="4.30" fill="#d92922"/>
<circle cx="1237.50" cy="285.80" r="4.30" fill="#d92922"/>
<circle cx="1248.80" cy="285.80" r="4.30" fill="#d92922"/>
<circle cx="1260.40" cy="285.80" r="4.30" fill="#d92922"/>
<circle cx="1271.70" cy="285.80" r="4.30" fill="#d92922"/>
<circle cx="1283.10" cy="285.80" r="4.30" fill="#d92922"/>
<circle cx="1174.20" cy="290.40" r="4.30" fill="#d92922"/>
<circle cx="1185.80" cy="290.40" r="4.30" fill="#d92922"/>
<circle cx="1197.20" cy="290.40" r="4.30" fill="#d92922"/>
<circle cx="1208.60" cy="290.40" r="4.30" fill="#d92922"/>
<circle cx="1220.10" cy="290.40" r="4.30" fill="#d92922"/>
<circle cx="1231.70" cy="290.40" r="4.30" fill="#d92922"/>
<circle cx="1243.10" cy="290.40" r="4.30" fill="#d92922"/>
<circle cx="1254.50" cy="290.40" r="4.30" fill="#d92922"/>
<circle cx="1266.10" cy="290.40" r="4.30" fill="#d92922"/>
<circle cx="1277.40" cy="290.40" r="4.30" fill="#d92922"/>
<circle cx="1289.00" cy="290.40" r="4.30" fill="#d92922"/>
<circle cx="1180.10" cy="295.00" r="4.30" fill="#d92922"/>
<circle cx="1191.50" cy="295.00" r="4.30" fill="#d92922"/>
<circle cx="1202.90" cy="295.00" r="4.30" fill="#d92922"/>
<circle cx="1214.50" cy="295.00" r="4.30" fill="#d92922"/>
<circle cx="1226.00" cy="295.00" r="4.30" fill="#d92922"/>
<circle cx="1237.50" cy="295.00" r="4.30" fill="#d92922"/>
<circle cx="1248.80" cy="295.00" r="4.30" fill="#d92922"/>
<circle cx="1260.40" cy="295.00" r="4.30" fill="#d92922"/>
<circle cx="1271.70" cy="295.00" r="4.30" fill="#d92922"/>
<circle cx="1283.10" cy="295.00" r="4.30" fill="#d92922"/>
<circle cx="1174.20" cy="300.40" r="4.30" fill="#d92922"/>
<circle cx="1185.80" cy="300.40" r="4.30" fill="#d92922"/>
<circle cx="1197.20" cy="300.40" r="4.30" fill="#d92922"/>
<circle cx="1220.10" cy="300.40" r="4.30" fill="#d92922"/>
<circle cx="1231.70" cy="300.40" r="4.30" fill="#d92922"/>
<circle cx="1243.10" cy="300.40" r="4.30" fill="#d92922"/>
<circle cx="1254.50" cy="300.40" r="4.30" fill="#d92922"/>
<circle cx="1266.10" cy="300.40" r="4.30" fill="#d92922"/>
<circle cx="1277.40" cy="300.40" r="4.30" fill="#d92922"/>
<circle cx="1289.00" cy="300.40" r="4.30" fill="#d92922"/>
<circle cx="1208.60" cy="305.60" r="4.30" fill="#d92922"/>
<circle cx="1220.10" cy="307.50" r="4.30" fill="#d92922"/>
<circle cx="1231.70" cy="308.00" r="4.30" fill="#d92922"/>
<circle cx="1243.10" cy="307.00" r="4.30" fill="#d92922"/>
<circle cx="1231.70" cy="322.20" r="4.30" fill="#d92922"/>
<line x1="976.00" y1="266.30" x2="1104.90" y2="266.30" stroke="#000" stroke-width="2.80" stroke-linecap="round"/>
<line x1="1008.20" y1="262.40" x2="1073.20" y2="262.40" stroke="#000" stroke-width="3.60" stroke-linecap="round"/>
<line x1="1008.20" y1="270.00" x2="1073.20" y2="270.00" stroke="#000" stroke-width="3.60" stroke-linecap="round"/>
<line x1="1040.70" y1="262.40" x2="1040.70" y2="270.00" stroke="#000" stroke-width="2.80"/>
<line x1="1167.60" y1="279.40" x2="1295.90" y2="279.40" stroke="#000" stroke-width="2.80" stroke-linecap="round"/>
<rect x="1198.40" y="275.80" width="66.20" height="7.50" rx="2" fill="#000"/>
</g>
<g id="C">
<text transform="translate(1379.33 34.50) scale(1.0000 1.040)" font-size="45.58">C</text>
<text transform="translate(1484.48 103.70) scale(1.0000 1.040)" font-size="25.00">TCGA</text>
<text transform="translate(1615.15 162.00) scale(0.9620 1.040)" font-size="25.00"><tspan style="font-style:italic">p</tspan>&lt;0.0001</text>
<line x1="1568.00" y1="174.00" x2="1761.70" y2="174.00" stroke="#000" stroke-width="2.80"/>
<line x1="1474.30" y1="104.50" x2="1474.30" y2="387.10" stroke="#000" stroke-width="3.00"/>
<line x1="1466.30" y1="105.80" x2="1474.30" y2="105.80" stroke="#000" stroke-width="3.00"/>
<text transform="translate(1446.73 113.10) scale(1.0000 1.040)" font-size="25.00">4</text>
<line x1="1466.30" y1="175.70" x2="1474.30" y2="175.70" stroke="#000" stroke-width="3.00"/>
<text transform="translate(1447.50 183.00) scale(1.0000 1.040)" font-size="25.00">3</text>
<line x1="1466.30" y1="245.60" x2="1474.30" y2="245.60" stroke="#000" stroke-width="3.00"/>
<text transform="translate(1447.60 252.90) scale(1.0000 1.040)" font-size="25.00">2</text>
<line x1="1466.30" y1="315.60" x2="1474.30" y2="315.60" stroke="#000" stroke-width="3.00"/>
<text transform="translate(1447.29 322.90) scale(1.0000 1.040)" font-size="25.00">1</text>
<line x1="1466.30" y1="385.60" x2="1474.30" y2="385.60" stroke="#000" stroke-width="3.00"/>
<text transform="translate(1447.62 392.90) scale(1.0000 1.040)" font-size="25.00">0</text>
<line x1="1467.50" y1="385.60" x2="1857.80" y2="385.60" stroke="#000" stroke-width="3.60" stroke-linecap="round"/>
<line x1="1570.00" y1="385.60" x2="1570.00" y2="394.10" stroke="#000" stroke-width="3.00"/>
<line x1="1761.20" y1="385.60" x2="1761.20" y2="394.10" stroke="#000" stroke-width="3.00"/>
<text transform="translate(1510.97 421.50) scale(1.0000 1.040)" font-size="25.00">Para-tumor</text>
<text transform="translate(1722.91 421.50) scale(1.0000 1.040)" font-size="25.00">Tumor</text>
<text transform="translate(1432.50 357.71) rotate(-90) scale(1 1.040)" font-size="25.00"><tspan style="font-style:italic">SVEP1</tspan> mRNA level</text>
<circle cx="1569.70" cy="185.90" r="4.10" fill="#283c9c"/>
<circle cx="1558.50" cy="228.50" r="4.10" fill="#283c9c"/>
<circle cx="1569.70" cy="233.00" r="4.10" fill="#283c9c"/>
<circle cx="1593.00" cy="281.80" r="4.10" fill="#283c9c"/>
<circle cx="1558.60" cy="288.90" r="4.10" fill="#283c9c"/>
<circle cx="1570.00" cy="292.50" r="4.10" fill="#283c9c"/>
<circle cx="1581.40" cy="291.30" r="4.10" fill="#283c9c"/>
<circle cx="1558.60" cy="303.30" r="4.10" fill="#283c9c"/>
<circle cx="1570.00" cy="306.70" r="4.10" fill="#283c9c"/>
<circle cx="1558.60" cy="316.70" r="4.10" fill="#283c9c"/>
<circle cx="1570.00" cy="320.70" r="4.10" fill="#283c9c"/>
<circle cx="1581.40" cy="317.80" r="4.10" fill="#283c9c"/>
<circle cx="1593.00" cy="316.70" r="4.10" fill="#283c9c"/>
<circle cx="1535.40" cy="324.40" r="4.10" fill="#283c9c"/>
<circle cx="1546.80" cy="326.80" r="4.10" fill="#283c9c"/>
<circle cx="1593.00" cy="326.60" r="4.10" fill="#283c9c"/>
<circle cx="1581.40" cy="328.20" r="4.10" fill="#283c9c"/>
<circle cx="1558.60" cy="330.60" r="4.10" fill="#283c9c"/>
<circle cx="1564.30" cy="336.30" r="4.10" fill="#283c9c"/>
<circle cx="1575.70" cy="336.30" r="4.10" fill="#283c9c"/>
<circle cx="1570.00" cy="331.00" r="4.10" fill="#283c9c"/>
<circle cx="1512.50" cy="335.30" r="4.10" fill="#283c9c"/>
<circle cx="1524.10" cy="340.10" r="4.10" fill="#283c9c"/>
<circle cx="1535.40" cy="343.10" r="4.10" fill="#283c9c"/>
<circle cx="1546.80" cy="343.40" r="4.10" fill="#283c9c"/>
<circle cx="1558.60" cy="343.80" r="4.10" fill="#283c9c"/>
<circle cx="1564.30" cy="348.10" r="4.10" fill="#283c9c"/>
<circle cx="1570.00" cy="346.90" r="4.10" fill="#283c9c"/>
<circle cx="1581.40" cy="346.90" r="4.10" fill="#283c9c"/>
<circle cx="1593.00" cy="343.70" r="4.10" fill="#283c9c"/>
<circle cx="1604.40" cy="343.10" r="4.10" fill="#283c9c"/>
<circle cx="1615.90" cy="342.40" r="4.10" fill="#283c9c"/>
<circle cx="1627.50" cy="338.90" r="4.10" fill="#283c9c"/>
<circle cx="1512.50" cy="349.10" r="4.10" fill="#283c9c"/>
<circle cx="1524.10" cy="352.20" r="4.10" fill="#283c9c"/>
<circle cx="1535.40" cy="354.70" r="4.10" fill="#283c9c"/>
<circle cx="1546.80" cy="355.70" r="4.10" fill="#283c9c"/>
<circle cx="1546.80" cy="361.40" r="4.10" fill="#283c9c"/>
<circle cx="1558.60" cy="359.80" r="4.10" fill="#283c9c"/>
<circle cx="1570.00" cy="359.90" r="4.10" fill="#283c9c"/>
<circle cx="1581.40" cy="358.20" r="4.10" fill="#283c9c"/>
<circle cx="1593.00" cy="355.20" r="4.10" fill="#283c9c"/>
<circle cx="1604.40" cy="352.60" r="4.10" fill="#283c9c"/>
<circle cx="1615.90" cy="350.50" r="4.10" fill="#283c9c"/>
<circle cx="1627.50" cy="349.10" r="4.10" fill="#283c9c"/>
<circle cx="1558.60" cy="371.80" r="4.10" fill="#283c9c"/>
<circle cx="1570.00" cy="374.10" r="4.10" fill="#283c9c"/>
<circle cx="1581.40" cy="372.20" r="4.10" fill="#283c9c"/>
<circle cx="1593.00" cy="368.90" r="4.10" fill="#283c9c"/>
<circle cx="1761.20" cy="229.80" r="4.10" fill="#d92922"/>
<circle cx="1761.20" cy="257.40" r="4.10" fill="#d92922"/>
<circle cx="1761.20" cy="270.20" r="4.10" fill="#d92922"/>
<circle cx="1761.20" cy="291.50" r="4.10" fill="#d92922"/>
<circle cx="1749.90" cy="312.40" r="4.10" fill="#d92922"/>
<circle cx="1761.20" cy="318.60" r="4.10" fill="#d92922"/>
<circle cx="1772.60" cy="317.30" r="4.10" fill="#d92922"/>
<circle cx="1749.90" cy="323.60" r="4.10" fill="#d92922"/>
<circle cx="1761.20" cy="335.40" r="4.10" fill="#d92922"/>
<circle cx="1726.70" cy="345.90" r="4.10" fill="#d92922"/>
<circle cx="1738.10" cy="347.20" r="4.10" fill="#d92922"/>
<circle cx="1784.10" cy="348.50" r="4.10" fill="#d92922"/>
<circle cx="1795.50" cy="346.50" r="4.10" fill="#d92922"/>
<circle cx="1749.90" cy="355.00" r="4.10" fill="#d92922"/>
<circle cx="1772.60" cy="355.70" r="4.10" fill="#d92922"/>
<circle cx="1761.20" cy="356.00" r="4.10" fill="#d92922"/>
<circle cx="1726.70" cy="360.00" r="4.10" fill="#d92922"/>
<circle cx="1795.50" cy="360.00" r="4.10" fill="#d92922"/>
<circle cx="1738.10" cy="368.20" r="4.10" fill="#d92922"/>
<circle cx="1749.90" cy="372.10" r="4.10" fill="#d92922"/>
<circle cx="1761.20" cy="372.10" r="4.10" fill="#d92922"/>
<circle cx="1772.60" cy="370.80" r="4.10" fill="#d92922"/>
<circle cx="1784.10" cy="367.50" r="4.10" fill="#d92922"/>
<circle cx="1787.00" cy="372.40" r="4.10" fill="#d92922"/>
<circle cx="1747.70" cy="374.10" r="4.10" fill="#d92922"/>
<circle cx="1775.20" cy="374.10" r="4.10" fill="#d92922"/>
<circle cx="1761.20" cy="376.00" r="4.10" fill="#d92922"/>
<circle cx="1761.20" cy="379.00" r="4.10" fill="#d92922"/>
<circle cx="1709.70" cy="377.50" r="4.10" fill="#d92922"/>
<circle cx="1721.10" cy="377.50" r="4.10" fill="#d92922"/>
<circle cx="1732.30" cy="377.50" r="4.10" fill="#d92922"/>
<circle cx="1743.80" cy="377.50" r="4.10" fill="#d92922"/>
<circle cx="1801.40" cy="377.50" r="4.10" fill="#d92922"/>
<circle cx="1812.90" cy="377.50" r="4.10" fill="#d92922"/>
<circle cx="1755.60" cy="379.50" r="4.10" fill="#d92922"/>
<circle cx="1767.40" cy="379.50" r="4.10" fill="#d92922"/>
<circle cx="1779.20" cy="379.50" r="4.10" fill="#d92922"/>
<circle cx="1789.60" cy="379.50" r="4.10" fill="#d92922"/>
<circle cx="1703.80" cy="383.90" r="4.10" fill="#d92922"/>
<circle cx="1715.30" cy="383.90" r="4.10" fill="#d92922"/>
<circle cx="1726.70" cy="383.90" r="4.10" fill="#d92922"/>
<circle cx="1738.10" cy="383.90" r="4.10" fill="#d92922"/>
<circle cx="1749.70" cy="383.90" r="4.10" fill="#d92922"/>
<circle cx="1761.20" cy="383.90" r="4.10" fill="#d92922"/>
<circle cx="1772.60" cy="383.90" r="4.10" fill="#d92922"/>
<circle cx="1784.10" cy="383.90" r="4.10" fill="#d92922"/>
<circle cx="1795.50" cy="383.90" r="4.10" fill="#d92922"/>
<circle cx="1807.10" cy="383.90" r="4.10" fill="#d92922"/>
<circle cx="1818.50" cy="383.90" r="4.10" fill="#d92922"/>
<line x1="1505.60" y1="330.30" x2="1634.40" y2="330.30" stroke="#000" stroke-width="2.80" stroke-linecap="round"/>
<line x1="1553.40" y1="324.90" x2="1586.60" y2="324.90" stroke="#000" stroke-width="2.80" stroke-linecap="round"/>
<line x1="1553.40" y1="335.50" x2="1586.60" y2="335.50" stroke="#000" stroke-width="2.80" stroke-linecap="round"/>
<line x1="1570.00" y1="324.90" x2="1570.00" y2="335.50" stroke="#000" stroke-width="2.80"/>
<line x1="1696.60" y1="359.20" x2="1825.00" y2="359.20" stroke="#000" stroke-width="2.80" stroke-linecap="round"/>
<line x1="1744.70" y1="354.00" x2="1777.70" y2="354.00" stroke="#000" stroke-width="2.80" stroke-linecap="round"/>
<line x1="1744.70" y1="364.50" x2="1777.70" y2="364.50" stroke="#000" stroke-width="2.80" stroke-linecap="round"/>
<line x1="1761.20" y1="354.00" x2="1761.20" y2="364.50" stroke="#000" stroke-width="2.80"/>
</g>
<g id="F">
<text transform="translate(517.56 569.30) scale(1.0000 1.040)" font-size="46.90">F</text>
<rect x="648.00" y="543.10" width="27.20" height="14.90" fill="#dc2b25" stroke="#000" stroke-width="3.2" rx="2"/>
<text transform="translate(678.93 557.80) scale(1.0000 1.040)" font-size="19.90">SVEP1 high</text>
<rect x="805.60" y="543.10" width="27.20" height="14.90" fill="#2c4fa8" stroke="#000" stroke-width="3.2" rx="2"/>
<text transform="translate(836.23 557.80) scale(1.0000 1.040)" font-size="19.90">SVEP1 low</text>
<text transform="translate(741.32 593.80) scale(1.0000 1.040)" font-size="25.00"><tspan style="font-style:italic">p</tspan>=0.049</text>
<line x1="647.00" y1="600.30" x2="935.80" y2="600.30" stroke="#000" stroke-width="3.20" stroke-linecap="round"/>
<line x1="619.80" y1="608.00" x2="619.80" y2="873.60" stroke="#000" stroke-width="2.40"/>
<line x1="612.30" y1="872.40" x2="619.80" y2="872.40" stroke="#000" stroke-width="2.60"/>
<text transform="translate(594.12 881.10) scale(1.0000 1.040)" font-size="25.00">0</text>
<line x1="612.30" y1="819.72" x2="619.80" y2="819.72" stroke="#000" stroke-width="2.60"/>
<text transform="translate(580.22 828.42) scale(1.0000 1.040)" font-size="25.00">20</text>
<line x1="612.30" y1="767.04" x2="619.80" y2="767.04" stroke="#000" stroke-width="2.60"/>
<text transform="translate(580.22 775.74) scale(1.0000 1.040)" font-size="25.00">40</text>
<line x1="612.30" y1="714.36" x2="619.80" y2="714.36" stroke="#000" stroke-width="2.60"/>
<text transform="translate(580.22 723.06) scale(1.0000 1.040)" font-size="25.00">60</text>
<line x1="612.30" y1="661.68" x2="619.80" y2="661.68" stroke="#000" stroke-width="2.60"/>
<text transform="translate(580.22 670.38) scale(1.0000 1.040)" font-size="25.00">80</text>
<line x1="612.30" y1="609.00" x2="619.80" y2="609.00" stroke="#000" stroke-width="2.60"/>
<text transform="translate(566.31 617.70) scale(1.0000 1.040)" font-size="25.00">100</text>
<line x1="612.30" y1="872.40" x2="965.50" y2="872.40" stroke="#000" stroke-width="2.80"/>
<rect x="648.50" y="609.00" width="114.00" height="159.62" fill="#dc2b25"/>
<rect x="648.50" y="768.62" width="114.00" height="103.78" fill="#2c4fa8"/>
<rect x="648.50" y="609.00" width="114.00" height="263.40" fill="none" stroke="#000" stroke-width="3"/>
<line x1="648.50" y1="768.92" x2="762.50" y2="768.92" stroke="#000" stroke-width="3.40"/>
<line x1="705.50" y1="872.40" x2="705.50" y2="880.90" stroke="#000" stroke-width="2.60"/>
<text transform="translate(670.43 679.20) scale(1.0000 1.040)" font-size="25.00">60.6%</text>
<text transform="translate(668.84 710.00) scale(1.0000 1.040)" font-size="25.00">(n=20)</text>
<text transform="translate(670.60 819.20) scale(1.0000 1.040)" font-size="25.00">39.4%</text>
<text transform="translate(668.84 850.40) scale(1.0000 1.040)" font-size="25.00">(n=13)</text>
<rect x="820.20" y="609.00" width="114.40" height="110.63" fill="#dc2b25"/>
<rect x="820.20" y="719.63" width="114.40" height="152.77" fill="#2c4fa8"/>
<rect x="820.20" y="609.00" width="114.40" height="263.40" fill="none" stroke="#000" stroke-width="3"/>
<line x1="820.20" y1="719.93" x2="934.60" y2="719.93" stroke="#000" stroke-width="3.40"/>
<line x1="877.30" y1="872.40" x2="877.30" y2="880.90" stroke="#000" stroke-width="2.60"/>
<text transform="translate(842.60 654.60) scale(1.0000 1.040)" font-size="25.00">42.0%</text>
<text transform="translate(840.74 686.70) scale(1.0000 1.040)" font-size="25.00">(n=73)</text>
<text transform="translate(842.40 796.80) scale(1.0000 1.040)" font-size="25.00">58.0%</text>
<text transform="translate(833.78 829.00) scale(1.0000 1.040)" font-size="25.00">(n=101)</text>
<text transform="translate(641.44 910.00) scale(1.0000 1.040)" font-size="25.00">Size &lt; 3cm</text>
<text transform="translate(815.08 910.00) scale(1.0000 1.040)" font-size="25.00">Size ≥ 3cm</text>
<text transform="translate(561.20 827.31) rotate(-90) scale(1 1.040)" font-size="25.00">Proportion (%)</text>
</g>
<g id="G">
<text transform="translate(513.58 995.30) scale(1.0000 1.040)" font-size="46.90">G</text>
<rect x="648.00" y="984.60" width="27.20" height="14.80" fill="#dc2b25" stroke="#000" stroke-width="3.2" rx="2"/>
<text transform="translate(678.93 998.50) scale(1.0000 1.040)" font-size="19.90">SVEP1 high</text>
<rect x="805.60" y="984.60" width="27.20" height="14.80" fill="#2c4fa8" stroke="#000" stroke-width="3.2" rx="2"/>
<text transform="translate(836.23 998.50) scale(1.0000 1.040)" font-size="19.90">SVEP1 low</text>
<text transform="translate(742.21 1033.70) scale(1.0000 1.040)" font-size="25.00"><tspan style="font-style:italic">p</tspan>=0.007</text>
<line x1="647.40" y1="1041.20" x2="935.50" y2="1041.20" stroke="#000" stroke-width="3.20" stroke-linecap="round"/>
<line x1="619.80" y1="1049.80" x2="619.80" y2="1314.60" stroke="#000" stroke-width="2.40"/>
<line x1="612.30" y1="1313.40" x2="619.80" y2="1313.40" stroke="#000" stroke-width="2.60"/>
<text transform="translate(594.12 1322.10) scale(1.0000 1.040)" font-size="25.00">0</text>
<line x1="612.30" y1="1260.88" x2="619.80" y2="1260.88" stroke="#000" stroke-width="2.60"/>
<text transform="translate(580.22 1269.58) scale(1.0000 1.040)" font-size="25.00">20</text>
<line x1="612.30" y1="1208.36" x2="619.80" y2="1208.36" stroke="#000" stroke-width="2.60"/>
<text transform="translate(580.22 1217.06) scale(1.0000 1.040)" font-size="25.00">40</text>
<line x1="612.30" y1="1155.84" x2="619.80" y2="1155.84" stroke="#000" stroke-width="2.60"/>
<text transform="translate(580.22 1164.54) scale(1.0000 1.040)" font-size="25.00">60</text>
<line x1="612.30" y1="1103.32" x2="619.80" y2="1103.32" stroke="#000" stroke-width="2.60"/>
<text transform="translate(580.22 1112.02) scale(1.0000 1.040)" font-size="25.00">80</text>
<line x1="612.30" y1="1050.80" x2="619.80" y2="1050.80" stroke="#000" stroke-width="2.60"/>
<text transform="translate(566.31 1059.50) scale(1.0000 1.040)" font-size="25.00">100</text>
<line x1="612.30" y1="1313.40" x2="965.50" y2="1313.40" stroke="#000" stroke-width="2.80"/>
<rect x="648.50" y="1050.80" width="115.00" height="138.92" fill="#dc2b25"/>
<rect x="648.50" y="1189.72" width="115.00" height="123.68" fill="#2c4fa8"/>
<rect x="648.50" y="1050.80" width="115.00" height="262.60" fill="none" stroke="#000" stroke-width="3"/>
<line x1="648.50" y1="1190.02" x2="763.50" y2="1190.02" stroke="#000" stroke-width="3.40"/>
<line x1="705.40" y1="1313.40" x2="705.40" y2="1321.90" stroke="#000" stroke-width="2.60"/>
<text transform="translate(671.00 1112.60) scale(1.0000 1.040)" font-size="25.00">52.9%</text>
<text transform="translate(669.34 1145.80) scale(1.0000 1.040)" font-size="25.00">(n=63)</text>
<text transform="translate(671.20 1244.60) scale(1.0000 1.040)" font-size="25.00">47.1%</text>
<text transform="translate(669.34 1277.80) scale(1.0000 1.040)" font-size="25.00">(n=56)</text>
<rect x="820.20" y="1050.80" width="115.00" height="89.55" fill="#dc2b25"/>
<rect x="820.20" y="1140.35" width="115.00" height="173.05" fill="#2c4fa8"/>
<rect x="820.20" y="1050.80" width="115.00" height="262.60" fill="none" stroke="#000" stroke-width="3"/>
<line x1="820.20" y1="1140.65" x2="935.20" y2="1140.65" stroke="#000" stroke-width="3.40"/>
<line x1="878.00" y1="1313.40" x2="878.00" y2="1321.90" stroke="#000" stroke-width="2.60"/>
<text transform="translate(842.80 1086.20) scale(1.0000 1.040)" font-size="25.00">34.1%</text>
<text transform="translate(841.04 1119.90) scale(1.0000 1.040)" font-size="25.00">(n=30)</text>
<text transform="translate(842.63 1226.70) scale(1.0000 1.040)" font-size="25.00">65.9%</text>
<text transform="translate(841.04 1259.70) scale(1.0000 1.040)" font-size="25.00">(n=58)</text>
<text transform="translate(634.81 1354.00) scale(1.0000 1.040)" font-size="25.00">Satellites (-)</text>
<text transform="translate(805.28 1354.00) scale(1.0000 1.040)" font-size="25.00">Satellites (+)</text>
<text transform="translate(560.50 1267.91) rotate(-90) scale(1 1.040)" font-size="25.00">Proportion (%)</text>
</g>
<g>
<text transform="translate(2.86 569.10) scale(1.0000 1.040)" font-size="46.90">D</text>
<text transform="translate(135.54 599.30) scale(1.0000 1.040)" font-size="24.10">TCGA</text>
<line x1="128.40" y1="621.50" x2="128.40" y2="872.90" stroke="#111" stroke-width="1.70"/>
<line x1="127.60" y1="872.20" x2="474.90" y2="872.20" stroke="#111" stroke-width="1.70"/>
<text transform="translate(90.77 881.10) scale(1.0000 1.040)" font-size="25.00">0.0</text>
<text transform="translate(90.75 831.12) scale(1.0000 1.040)" font-size="25.00">0.2</text>
<text transform="translate(89.88 781.14) scale(1.0000 1.040)" font-size="25.00">0.4</text>
<text transform="translate(90.65 731.16) scale(1.0000 1.040)" font-size="25.00">0.6</text>
<text transform="translate(90.52 681.18) scale(1.0000 1.040)" font-size="25.00">0.8</text>
<text transform="translate(90.77 631.20) scale(1.0000 1.040)" font-size="25.00">1.0</text>
<text transform="translate(122.07 899.50) scale(1.0000 1.040)" font-size="25.00">0</text>
<text transform="translate(172.58 899.50) scale(1.0000 1.040)" font-size="25.00">20</text>
<text transform="translate(230.22 899.50) scale(1.0000 1.040)" font-size="25.00">40</text>
<text transform="translate(287.35 899.50) scale(1.0000 1.040)" font-size="25.00">60</text>
<text transform="translate(344.81 899.50) scale(1.0000 1.040)" font-size="25.00">80</text>
<text transform="translate(394.87 899.50) scale(1.0000 1.040)" font-size="25.00">100</text>
<text transform="translate(452.27 899.50) scale(1.0000 1.040)" font-size="25.00">120</text>
<text transform="translate(214.67 926.70) scale(1.0000 1.040)" font-size="25.00">Time (months)</text>
<text transform="translate(77.50 840.94) rotate(-90) scale(1 1.040)" font-size="25.00">Overall survival</text>
<text transform="translate(329.40 635.40) scale(0.9509 1)" font-size="17.15"><tspan style="font-style:italic">SVEP1</tspan> mRNA level</text>
<text transform="translate(354.42 653.50) scale(1.0521 1)" font-size="13.95">Low</text>
<polyline points="330.50,652.40 340.75,652.40 340.75,645.20 351.00,645.20 351.00,651.20" fill="none" stroke="#4a84c6" stroke-width="1.80"/>
<text transform="translate(354.39 669.00) scale(1.0787 1)" font-size="13.95">High</text>
<polyline points="330.50,667.90 340.75,667.90 340.75,660.70 351.00,660.70 351.00,666.70" fill="none" stroke="#cf0e34" stroke-width="1.80"/>
<text transform="translate(354.40 684.80) scale(1.0697 1)" font-size="13.95">Low-censored</text>
<line x1="329.50" y1="680.10" x2="351.00" y2="680.10" stroke="#4a84c6" stroke-width="1.80"/>
<line x1="340.75" y1="673.10" x2="340.75" y2="687.10" stroke="#4a84c6" stroke-width="1.80"/>
<text transform="translate(354.40 700.10) scale(1.0758 1)" font-size="13.95">High-censored</text>
<line x1="329.50" y1="695.40" x2="351.00" y2="695.40" stroke="#cf0e34" stroke-width="1.80"/>
<line x1="340.75" y1="688.40" x2="340.75" y2="702.40" stroke="#cf0e34" stroke-width="1.80"/>
<text transform="translate(390.58 782.00) scale(1.0621 1)" font-size="13.66">(n=91)</text>
<text transform="translate(369.68 855.20) scale(1.0647 1)" font-size="13.66">(n=91)</text>
<text transform="translate(146.82 849.20) scale(1.0530 1)" font-size="13.95"><tspan style="font-style:italic">p</tspan>=0.037</text>
<polyline points="127.90,621.80 129.30,621.80 129.30,624.30 130.90,624.30 130.90,632.60 137.40,632.60 137.40,633.00 138.30,633.00 138.30,637.90 141.10,637.90 141.10,639.10 145.40,639.10 145.40,639.80 146.70,639.80 146.70,641.00 148.50,641.00 148.50,642.90 151.00,642.90 151.00,644.70 153.20,644.70 153.20,646.00 154.10,646.00 154.10,652.20 155.30,652.20 155.30,654.60 156.00,654.60 156.00,657.70 160.90,657.70 161.80,657.70 161.80,662.10 162.80,662.10 162.80,664.50 164.60,664.50 164.60,666.40 165.90,666.40 165.90,668.90 168.30,668.90 168.30,670.10 170.20,670.10 170.20,672.00 178.30,672.00 178.90,672.00 178.90,674.40 179.50,674.40 179.50,678.80 182.00,678.80 182.00,680.60 183.80,680.60 183.80,683.10 184.40,683.10 184.40,685.60 185.40,685.60 185.40,692.40 186.90,692.40 186.90,698.00 188.40,698.00 188.40,701.40 191.90,701.40 191.90,702.30 193.60,702.30 193.60,706.60 200.60,706.60 200.60,707.50 202.40,707.50 202.40,712.80 206.10,712.80 206.10,715.20 207.60,715.20 207.60,733.10 244.90,733.10 244.90,742.00 303.20,742.00 303.20,754.00 362.90,754.00 363.80,754.00 363.80,872.00" fill="none" stroke="#4a84c6" stroke-width="1.75" stroke-linejoin="miter"/>
<line x1="131.50" y1="629.50" x2="131.50" y2="635.70" stroke="#4a84c6" stroke-width="1.60"/>
<line x1="133.70" y1="629.50" x2="133.70" y2="635.70" stroke="#4a84c6" stroke-width="1.60"/>
<line x1="135.80" y1="629.50" x2="135.80" y2="635.70" stroke="#4a84c6" stroke-width="1.60"/>
<line x1="138.30" y1="634.80" x2="138.30" y2="641.00" stroke="#4a84c6" stroke-width="1.60"/>
<line x1="140.80" y1="634.80" x2="140.80" y2="641.00" stroke="#4a84c6" stroke-width="1.60"/>
<line x1="143.60" y1="636.00" x2="143.60" y2="642.20" stroke="#4a84c6" stroke-width="1.60"/>
<line x1="145.40" y1="636.70" x2="145.40" y2="642.90" stroke="#4a84c6" stroke-width="1.60"/>
<line x1="148.50" y1="639.80" x2="148.50" y2="646.00" stroke="#4a84c6" stroke-width="1.60"/>
<line x1="149.80" y1="639.80" x2="149.80" y2="646.00" stroke="#4a84c6" stroke-width="1.60"/>
<line x1="151.00" y1="641.60" x2="151.00" y2="647.80" stroke="#4a84c6" stroke-width="1.60"/>
<line x1="152.20" y1="641.60" x2="152.20" y2="647.80" stroke="#4a84c6" stroke-width="1.60"/>
<line x1="154.70" y1="649.10" x2="154.70" y2="655.30" stroke="#4a84c6" stroke-width="1.60"/>
<line x1="162.20" y1="659.00" x2="162.20" y2="665.20" stroke="#4a84c6" stroke-width="1.60"/>
<line x1="163.40" y1="661.40" x2="163.40" y2="667.60" stroke="#4a84c6" stroke-width="1.60"/>
<line x1="164.60" y1="663.30" x2="164.60" y2="669.50" stroke="#4a84c6" stroke-width="1.60"/>
<line x1="165.90" y1="665.80" x2="165.90" y2="672.00" stroke="#4a84c6" stroke-width="1.60"/>
<line x1="167.70" y1="665.80" x2="167.70" y2="672.00" stroke="#4a84c6" stroke-width="1.60"/>
<line x1="170.20" y1="668.90" x2="170.20" y2="675.10" stroke="#4a84c6" stroke-width="1.60"/>
<line x1="172.10" y1="668.90" x2="172.10" y2="675.10" stroke="#4a84c6" stroke-width="1.60"/>
<line x1="173.90" y1="668.90" x2="173.90" y2="675.10" stroke="#4a84c6" stroke-width="1.60"/>
<line x1="175.80" y1="668.90" x2="175.80" y2="675.10" stroke="#4a84c6" stroke-width="1.60"/>
<line x1="177.30" y1="668.90" x2="177.30" y2="675.10" stroke="#4a84c6" stroke-width="1.60"/>
<line x1="178.90" y1="671.30" x2="178.90" y2="677.50" stroke="#4a84c6" stroke-width="1.60"/>
<line x1="180.70" y1="675.70" x2="180.70" y2="681.90" stroke="#4a84c6" stroke-width="1.60"/>
<line x1="182.60" y1="677.50" x2="182.60" y2="683.70" stroke="#4a84c6" stroke-width="1.60"/>
<line x1="184.40" y1="682.50" x2="184.40" y2="688.70" stroke="#4a84c6" stroke-width="1.60"/>
<line x1="186.00" y1="689.30" x2="186.00" y2="695.50" stroke="#4a84c6" stroke-width="1.60"/>
<line x1="193.00" y1="699.20" x2="193.00" y2="705.40" stroke="#4a84c6" stroke-width="1.60"/>
<line x1="196.00" y1="703.50" x2="196.00" y2="709.70" stroke="#4a84c6" stroke-width="1.60"/>
<line x1="199.00" y1="703.50" x2="199.00" y2="709.70" stroke="#4a84c6" stroke-width="1.60"/>
<line x1="203.00" y1="709.70" x2="203.00" y2="715.90" stroke="#4a84c6" stroke-width="1.60"/>
<line x1="212.00" y1="730.00" x2="212.00" y2="736.20" stroke="#4a84c6" stroke-width="1.60"/>
<line x1="218.00" y1="730.00" x2="218.00" y2="736.20" stroke="#4a84c6" stroke-width="1.60"/>
<line x1="230.00" y1="730.00" x2="230.00" y2="736.20" stroke="#4a84c6" stroke-width="1.60"/>
<line x1="239.00" y1="730.00" x2="239.00" y2="736.20" stroke="#4a84c6" stroke-width="1.60"/>
<line x1="256.90" y1="738.90" x2="256.90" y2="745.10" stroke="#4a84c6" stroke-width="1.60"/>
<line x1="262.80" y1="738.90" x2="262.80" y2="745.10" stroke="#4a84c6" stroke-width="1.60"/>
<line x1="273.30" y1="738.90" x2="273.30" y2="745.10" stroke="#4a84c6" stroke-width="1.60"/>
<line x1="312.10" y1="750.90" x2="312.10" y2="757.10" stroke="#4a84c6" stroke-width="1.60"/>
<line x1="316.60" y1="750.90" x2="316.60" y2="757.10" stroke="#4a84c6" stroke-width="1.60"/>
<line x1="321.00" y1="750.90" x2="321.00" y2="757.10" stroke="#4a84c6" stroke-width="1.60"/>
<line x1="328.50" y1="750.90" x2="328.50" y2="757.10" stroke="#4a84c6" stroke-width="1.60"/>
<line x1="337.50" y1="750.90" x2="337.50" y2="757.10" stroke="#4a84c6" stroke-width="1.60"/>
<line x1="349.50" y1="750.90" x2="349.50" y2="757.10" stroke="#4a84c6" stroke-width="1.60"/>
<line x1="358.40" y1="750.90" x2="358.40" y2="757.10" stroke="#4a84c6" stroke-width="1.60"/>
<polyline points="127.90,621.80 132.40,621.80 132.40,624.00 137.10,624.00 137.70,624.00 137.70,635.40 156.60,635.40 157.20,635.40 157.20,641.00 162.20,641.00 162.20,642.20 163.40,642.20 163.40,644.10 170.80,644.10 170.80,644.70 171.10,644.70 171.10,647.80 177.00,647.80 177.60,647.80 177.60,649.70 181.30,649.70 181.30,652.20 188.20,652.20 189.40,652.20 189.40,655.60 200.50,655.60 201.80,655.60 201.80,664.50 206.70,664.50 206.70,665.80 208.00,665.80 208.00,669.50 230.30,669.50 231.50,669.50 231.50,675.70 235.80,675.70 235.80,676.90 236.50,676.90 236.50,683.10 237.10,683.10 237.10,696.70 247.90,696.70 247.90,702.60 256.90,702.60 256.90,704.70 256.90,711.60 262.80,711.60 262.80,718.80 288.20,718.80 288.20,729.50 289.70,729.50 289.70,736.10 328.50,736.10 328.50,748.00 361.40,748.00 361.40,769.00 369.80,769.00 369.80,794.30 437.60,794.30 437.60,872.00" fill="none" stroke="#cf0e34" stroke-width="1.75" stroke-linejoin="miter"/>
<line x1="145.10" y1="632.30" x2="145.10" y2="638.50" stroke="#cf0e34" stroke-width="1.60"/>
<line x1="157.20" y1="637.90" x2="157.20" y2="644.10" stroke="#cf0e34" stroke-width="1.60"/>
<line x1="158.70" y1="637.90" x2="158.70" y2="644.10" stroke="#cf0e34" stroke-width="1.60"/>
<line x1="160.30" y1="637.90" x2="160.30" y2="644.10" stroke="#cf0e34" stroke-width="1.60"/>
<line x1="161.80" y1="637.90" x2="161.80" y2="644.10" stroke="#cf0e34" stroke-width="1.60"/>
<line x1="166.20" y1="641.00" x2="166.20" y2="647.20" stroke="#cf0e34" stroke-width="1.60"/>
<line x1="167.70" y1="641.00" x2="167.70" y2="647.20" stroke="#cf0e34" stroke-width="1.60"/>
<line x1="169.30" y1="641.00" x2="169.30" y2="647.20" stroke="#cf0e34" stroke-width="1.60"/>
<line x1="170.80" y1="641.60" x2="170.80" y2="647.80" stroke="#cf0e34" stroke-width="1.60"/>
<line x1="172.10" y1="644.70" x2="172.10" y2="650.90" stroke="#cf0e34" stroke-width="1.60"/>
<line x1="177.30" y1="644.70" x2="177.30" y2="650.90" stroke="#cf0e34" stroke-width="1.60"/>
<line x1="178.90" y1="646.60" x2="178.90" y2="652.80" stroke="#cf0e34" stroke-width="1.60"/>
<line x1="180.40" y1="646.60" x2="180.40" y2="652.80" stroke="#cf0e34" stroke-width="1.60"/>
<line x1="182.00" y1="649.10" x2="182.00" y2="655.30" stroke="#cf0e34" stroke-width="1.60"/>
<line x1="187.80" y1="649.10" x2="187.80" y2="655.30" stroke="#cf0e34" stroke-width="1.60"/>
<line x1="189.40" y1="652.50" x2="189.40" y2="658.70" stroke="#cf0e34" stroke-width="1.60"/>
<line x1="190.70" y1="652.50" x2="190.70" y2="658.70" stroke="#cf0e34" stroke-width="1.60"/>
<line x1="194.70" y1="652.50" x2="194.70" y2="658.70" stroke="#cf0e34" stroke-width="1.60"/>
<line x1="196.20" y1="652.50" x2="196.20" y2="658.70" stroke="#cf0e34" stroke-width="1.60"/>
<line x1="197.80" y1="652.50" x2="197.80" y2="658.70" stroke="#cf0e34" stroke-width="1.60"/>
<line x1="199.90" y1="652.50" x2="199.90" y2="658.70" stroke="#cf0e34" stroke-width="1.60"/>
<line x1="201.80" y1="661.40" x2="201.80" y2="667.60" stroke="#cf0e34" stroke-width="1.60"/>
<line x1="205.50" y1="661.40" x2="205.50" y2="667.60" stroke="#cf0e34" stroke-width="1.60"/>
<line x1="208.00" y1="666.40" x2="208.00" y2="672.60" stroke="#cf0e34" stroke-width="1.60"/>
<line x1="209.80" y1="666.40" x2="209.80" y2="672.60" stroke="#cf0e34" stroke-width="1.60"/>
<line x1="211.40" y1="666.40" x2="211.40" y2="672.60" stroke="#cf0e34" stroke-width="1.60"/>
<line x1="216.00" y1="666.40" x2="216.00" y2="672.60" stroke="#cf0e34" stroke-width="1.60"/>
<line x1="224.10" y1="666.40" x2="224.10" y2="672.60" stroke="#cf0e34" stroke-width="1.60"/>
<line x1="225.90" y1="666.40" x2="225.90" y2="672.60" stroke="#cf0e34" stroke-width="1.60"/>
<line x1="229.60" y1="666.40" x2="229.60" y2="672.60" stroke="#cf0e34" stroke-width="1.60"/>
<line x1="231.50" y1="672.60" x2="231.50" y2="678.80" stroke="#cf0e34" stroke-width="1.60"/>
<line x1="234.00" y1="672.60" x2="234.00" y2="678.80" stroke="#cf0e34" stroke-width="1.60"/>
<line x1="235.80" y1="673.80" x2="235.80" y2="680.00" stroke="#cf0e34" stroke-width="1.60"/>
<line x1="252.00" y1="699.50" x2="252.00" y2="705.70" stroke="#cf0e34" stroke-width="1.60"/>
<line x1="259.00" y1="708.50" x2="259.00" y2="714.70" stroke="#cf0e34" stroke-width="1.60"/>
<line x1="268.80" y1="715.70" x2="268.80" y2="721.90" stroke="#cf0e34" stroke-width="1.60"/>
<line x1="276.30" y1="715.70" x2="276.30" y2="721.90" stroke="#cf0e34" stroke-width="1.60"/>
<line x1="307.60" y1="733.00" x2="307.60" y2="739.20" stroke="#cf0e34" stroke-width="1.60"/>
<line x1="319.60" y1="733.00" x2="319.60" y2="739.20" stroke="#cf0e34" stroke-width="1.60"/>
<line x1="340.50" y1="744.90" x2="340.50" y2="751.10" stroke="#cf0e34" stroke-width="1.60"/>
<line x1="348.00" y1="744.90" x2="348.00" y2="751.10" stroke="#cf0e34" stroke-width="1.60"/>
<line x1="355.40" y1="744.90" x2="355.40" y2="751.10" stroke="#cf0e34" stroke-width="1.60"/>
<line x1="360.80" y1="744.90" x2="360.80" y2="751.10" stroke="#cf0e34" stroke-width="1.60"/>
<line x1="372.00" y1="791.20" x2="372.00" y2="797.40" stroke="#cf0e34" stroke-width="1.60"/>
<line x1="388.30" y1="791.20" x2="388.30" y2="797.40" stroke="#cf0e34" stroke-width="1.60"/>
</g>
<g>
<text transform="translate(8.36 995.00) scale(1.0000 1.040)" font-size="46.90">E</text>
<text transform="translate(132.24 1038.80) scale(1.0000 1.040)" font-size="24.10">TCGA</text>
<line x1="127.60" y1="1062.70" x2="127.60" y2="1311.90" stroke="#111" stroke-width="1.70"/>
<line x1="126.80" y1="1311.20" x2="473.00" y2="1311.20" stroke="#111" stroke-width="1.70"/>
<text transform="translate(87.27 1320.10) scale(1.0000 1.040)" font-size="25.00">0.0</text>
<text transform="translate(87.25 1270.56) scale(1.0000 1.040)" font-size="25.00">0.2</text>
<text transform="translate(86.38 1221.02) scale(1.0000 1.040)" font-size="25.00">0.4</text>
<text transform="translate(87.15 1171.48) scale(1.0000 1.040)" font-size="25.00">0.6</text>
<text transform="translate(87.02 1121.94) scale(1.0000 1.040)" font-size="25.00">0.8</text>
<text transform="translate(87.27 1072.40) scale(1.0000 1.040)" font-size="25.00">1.0</text>
<text transform="translate(120.07 1338.30) scale(1.0000 1.040)" font-size="25.00">0</text>
<text transform="translate(181.88 1338.30) scale(1.0000 1.040)" font-size="25.00">20</text>
<text transform="translate(250.82 1338.30) scale(1.0000 1.040)" font-size="25.00">40</text>
<text transform="translate(319.25 1338.30) scale(1.0000 1.040)" font-size="25.00">60</text>
<text transform="translate(388.01 1338.30) scale(1.0000 1.040)" font-size="25.00">80</text>
<text transform="translate(449.37 1338.30) scale(1.0000 1.040)" font-size="25.00">100</text>
<text transform="translate(211.37 1364.60) scale(1.0000 1.040)" font-size="25.00">Time (months)</text>
<text transform="translate(71.10 1312.24) rotate(-90) scale(1 1.040)" font-size="25.00">Disease free survival</text>
<text transform="translate(329.20 1075.80) scale(0.9574 1)" font-size="17.15"><tspan style="font-style:italic">SVEP1</tspan> mRNA level</text>
<text transform="translate(354.02 1092.40) scale(1.0521 1)" font-size="13.95">Low</text>
<polyline points="330.00,1091.30 340.25,1091.30 340.25,1084.10 350.50,1084.10 350.50,1090.10" fill="none" stroke="#4a84c6" stroke-width="1.80"/>
<text transform="translate(353.99 1108.00) scale(1.0787 1)" font-size="13.95">High</text>
<polyline points="330.00,1106.90 340.25,1106.90 340.25,1099.70 350.50,1099.70 350.50,1105.70" fill="none" stroke="#cf0e34" stroke-width="1.80"/>
<text transform="translate(354.00 1124.00) scale(1.0697 1)" font-size="13.95">Low-censored</text>
<line x1="329.00" y1="1119.30" x2="350.50" y2="1119.30" stroke="#4a84c6" stroke-width="1.80"/>
<line x1="340.25" y1="1112.30" x2="340.25" y2="1126.30" stroke="#4a84c6" stroke-width="1.80"/>
<text transform="translate(354.00 1140.00) scale(1.0758 1)" font-size="13.95">High-censored</text>
<line x1="329.00" y1="1135.30" x2="350.50" y2="1135.30" stroke="#cf0e34" stroke-width="1.80"/>
<line x1="340.25" y1="1128.30" x2="340.25" y2="1142.30" stroke="#cf0e34" stroke-width="1.80"/>
<text transform="translate(411.29 1247.80) scale(1.0392 1)" font-size="13.66">(n=78)</text>
<text transform="translate(400.89 1287.40) scale(1.0494 1)" font-size="13.66">(n=78)</text>
<text transform="translate(146.62 1287.80) scale(1.0530 1)" font-size="13.95"><tspan style="font-style:italic">p</tspan>=0.039</text>
<polyline points="127.50,1062.50 131.20,1062.50 131.20,1063.00 131.80,1063.00 131.80,1067.40 132.40,1067.40 132.40,1074.20 135.50,1074.20 135.50,1074.80 138.00,1074.80 138.00,1078.50 138.90,1078.50 138.90,1092.20 140.80,1092.20 140.80,1093.40 141.70,1093.40 141.70,1102.10 143.60,1102.10 143.60,1104.50 145.40,1104.50 145.40,1106.40 146.10,1106.40 146.10,1108.90 147.60,1108.90 147.60,1110.10 148.50,1110.10 148.50,1116.30 149.80,1116.30 149.80,1123.10 152.90,1123.10 152.90,1123.70 154.10,1123.70 154.10,1130.50 155.30,1130.50 155.30,1136.70 157.20,1136.70 157.20,1137.40 159.50,1137.40 159.50,1143.00 162.50,1143.00 162.50,1148.00 165.00,1148.00 165.00,1151.00 167.00,1151.00 167.00,1154.00 170.00,1154.00 170.00,1156.50 173.00,1156.50 173.00,1158.60 177.00,1158.60 177.00,1160.50 180.50,1160.50 180.50,1162.20 183.50,1162.20 183.50,1167.60 185.00,1167.60 185.00,1176.00 194.00,1176.00 195.50,1176.00 195.50,1187.10 197.00,1187.10 197.00,1192.00 198.60,1192.00 198.60,1197.70 201.50,1197.70 201.50,1201.50 204.60,1201.50 204.60,1205.20 207.00,1205.20 207.00,1209.00 209.10,1209.00 209.10,1212.70 212.00,1212.70 212.00,1219.00 215.10,1219.00 215.10,1226.20 254.20,1226.20 254.20,1234.40 291.80,1234.40 291.80,1245.80 312.90,1245.80 312.90,1257.20 358.00,1257.20 358.00,1284.30 392.60,1284.30" fill="none" stroke="#4a84c6" stroke-width="1.75" stroke-linejoin="miter"/>
<line x1="132.10" y1="1064.30" x2="132.10" y2="1070.50" stroke="#4a84c6" stroke-width="1.60"/>
<line x1="134.30" y1="1071.10" x2="134.30" y2="1077.30" stroke="#4a84c6" stroke-width="1.60"/>
<line x1="136.50" y1="1071.70" x2="136.50" y2="1077.90" stroke="#4a84c6" stroke-width="1.60"/>
<line x1="137.40" y1="1071.70" x2="137.40" y2="1077.90" stroke="#4a84c6" stroke-width="1.60"/>
<line x1="160.30" y1="1139.90" x2="160.30" y2="1146.10" stroke="#4a84c6" stroke-width="1.60"/>
<line x1="170.00" y1="1153.40" x2="170.00" y2="1159.60" stroke="#4a84c6" stroke-width="1.60"/>
<line x1="172.00" y1="1153.40" x2="172.00" y2="1159.60" stroke="#4a84c6" stroke-width="1.60"/>
<line x1="174.00" y1="1155.50" x2="174.00" y2="1161.70" stroke="#4a84c6" stroke-width="1.60"/>
<line x1="176.00" y1="1155.50" x2="176.00" y2="1161.70" stroke="#4a84c6" stroke-width="1.60"/>
<line x1="178.00" y1="1157.40" x2="178.00" y2="1163.60" stroke="#4a84c6" stroke-width="1.60"/>
<line x1="180.50" y1="1159.10" x2="180.50" y2="1165.30" stroke="#4a84c6" stroke-width="1.60"/>
<line x1="189.50" y1="1172.90" x2="189.50" y2="1179.10" stroke="#4a84c6" stroke-width="1.60"/>
<line x1="191.50" y1="1172.90" x2="191.50" y2="1179.10" stroke="#4a84c6" stroke-width="1.60"/>
<line x1="194.00" y1="1172.90" x2="194.00" y2="1179.10" stroke="#4a84c6" stroke-width="1.60"/>
<line x1="195.50" y1="1184.00" x2="195.50" y2="1190.20" stroke="#4a84c6" stroke-width="1.60"/>
<line x1="200.00" y1="1194.60" x2="200.00" y2="1200.80" stroke="#4a84c6" stroke-width="1.60"/>
<line x1="207.60" y1="1205.90" x2="207.60" y2="1212.10" stroke="#4a84c6" stroke-width="1.60"/>
<line x1="209.10" y1="1209.60" x2="209.10" y2="1215.80" stroke="#4a84c6" stroke-width="1.60"/>
<line x1="229.50" y1="1223.10" x2="229.50" y2="1229.30" stroke="#4a84c6" stroke-width="1.60"/>
<line x1="249.00" y1="1223.10" x2="249.00" y2="1229.30" stroke="#4a84c6" stroke-width="1.60"/>
<line x1="268.60" y1="1231.30" x2="268.60" y2="1237.50" stroke="#4a84c6" stroke-width="1.60"/>
<line x1="288.80" y1="1231.30" x2="288.80" y2="1237.50" stroke="#4a84c6" stroke-width="1.60"/>
<line x1="348.40" y1="1254.10" x2="348.40" y2="1260.30" stroke="#4a84c6" stroke-width="1.60"/>
<line x1="350.50" y1="1254.10" x2="350.50" y2="1260.30" stroke="#4a84c6" stroke-width="1.60"/>
<line x1="352.60" y1="1254.10" x2="352.60" y2="1260.30" stroke="#4a84c6" stroke-width="1.60"/>
<line x1="392.60" y1="1281.20" x2="392.60" y2="1287.40" stroke="#4a84c6" stroke-width="1.60"/>
<polyline points="127.50,1062.50 129.30,1062.50 129.30,1064.30 139.60,1064.30 140.20,1064.30 140.20,1070.50 141.40,1070.50 141.40,1074.80 141.70,1074.80 141.70,1081.00 147.90,1081.00 148.50,1081.00 148.50,1088.40 149.80,1088.40 149.80,1089.70 151.00,1089.70 151.00,1098.30 152.90,1098.30 152.90,1102.10 156.00,1102.10 156.90,1102.10 156.90,1115.70 162.20,1115.70 163.40,1115.70 163.40,1119.40 165.90,1119.40 165.90,1121.30 167.70,1121.30 167.70,1123.70 168.30,1123.70 168.30,1130.50 180.70,1130.50 182.00,1130.50 182.00,1134.90 183.50,1134.90 183.50,1135.50 186.00,1135.50 186.00,1140.00 189.50,1140.00 189.50,1148.00 192.00,1148.00 192.00,1151.00 194.00,1151.00 194.00,1154.00 196.00,1154.00 196.00,1157.00 198.60,1157.00 198.60,1160.00 200.00,1160.00 200.00,1165.20 227.10,1165.20 227.10,1170.60 240.70,1170.60 242.20,1170.60 242.20,1176.60 246.00,1176.60 246.00,1180.00 249.70,1180.00 249.70,1184.00 253.00,1184.00 253.00,1188.00 255.70,1188.00 255.70,1191.60 255.70,1199.20 266.20,1199.20 266.20,1206.70 300.80,1206.70 300.80,1215.70 361.00,1215.70 361.00,1232.30 369.40,1232.30 369.40,1247.30 382.00,1247.30 382.00,1263.30 413.70,1263.30" fill="none" stroke="#cf0e34" stroke-width="1.75" stroke-linejoin="miter"/>
<line x1="147.90" y1="1077.90" x2="147.90" y2="1084.10" stroke="#cf0e34" stroke-width="1.60"/>
<line x1="162.80" y1="1112.60" x2="162.80" y2="1118.80" stroke="#cf0e34" stroke-width="1.60"/>
<line x1="164.60" y1="1116.30" x2="164.60" y2="1122.50" stroke="#cf0e34" stroke-width="1.60"/>
<line x1="166.20" y1="1118.20" x2="166.20" y2="1124.40" stroke="#cf0e34" stroke-width="1.60"/>
<line x1="167.70" y1="1120.60" x2="167.70" y2="1126.80" stroke="#cf0e34" stroke-width="1.60"/>
<line x1="167.10" y1="1118.20" x2="167.10" y2="1124.40" stroke="#cf0e34" stroke-width="1.60"/>
<line x1="173.90" y1="1127.40" x2="173.90" y2="1133.60" stroke="#cf0e34" stroke-width="1.60"/>
<line x1="175.20" y1="1127.40" x2="175.20" y2="1133.60" stroke="#cf0e34" stroke-width="1.60"/>
<line x1="176.40" y1="1127.40" x2="176.40" y2="1133.60" stroke="#cf0e34" stroke-width="1.60"/>
<line x1="177.60" y1="1127.40" x2="177.60" y2="1133.60" stroke="#cf0e34" stroke-width="1.60"/>
<line x1="185.40" y1="1132.40" x2="185.40" y2="1138.60" stroke="#cf0e34" stroke-width="1.60"/>
<line x1="186.90" y1="1136.90" x2="186.90" y2="1143.10" stroke="#cf0e34" stroke-width="1.60"/>
<line x1="188.20" y1="1136.90" x2="188.20" y2="1143.10" stroke="#cf0e34" stroke-width="1.60"/>
<line x1="192.50" y1="1147.90" x2="192.50" y2="1154.10" stroke="#cf0e34" stroke-width="1.60"/>
<line x1="198.60" y1="1156.90" x2="198.60" y2="1163.10" stroke="#cf0e34" stroke-width="1.60"/>
<line x1="200.00" y1="1162.10" x2="200.00" y2="1168.30" stroke="#cf0e34" stroke-width="1.60"/>
<line x1="210.60" y1="1162.10" x2="210.60" y2="1168.30" stroke="#cf0e34" stroke-width="1.60"/>
<line x1="213.60" y1="1162.10" x2="213.60" y2="1168.30" stroke="#cf0e34" stroke-width="1.60"/>
<line x1="216.60" y1="1162.10" x2="216.60" y2="1168.30" stroke="#cf0e34" stroke-width="1.60"/>
<line x1="220.50" y1="1162.10" x2="220.50" y2="1168.30" stroke="#cf0e34" stroke-width="1.60"/>
<line x1="242.20" y1="1173.50" x2="242.20" y2="1179.70" stroke="#cf0e34" stroke-width="1.60"/>
<line x1="249.70" y1="1180.90" x2="249.70" y2="1187.10" stroke="#cf0e34" stroke-width="1.60"/>
<line x1="267.70" y1="1203.60" x2="267.70" y2="1209.80" stroke="#cf0e34" stroke-width="1.60"/>
<line x1="273.80" y1="1203.60" x2="273.80" y2="1209.80" stroke="#cf0e34" stroke-width="1.60"/>
<line x1="303.80" y1="1212.60" x2="303.80" y2="1218.80" stroke="#cf0e34" stroke-width="1.60"/>
<line x1="321.30" y1="1212.60" x2="321.30" y2="1218.80" stroke="#cf0e34" stroke-width="1.60"/>
<line x1="343.00" y1="1212.60" x2="343.00" y2="1218.80" stroke="#cf0e34" stroke-width="1.60"/>
<line x1="356.50" y1="1212.60" x2="356.50" y2="1218.80" stroke="#cf0e34" stroke-width="1.60"/>
<line x1="391.10" y1="1260.20" x2="391.10" y2="1266.40" stroke="#cf0e34" stroke-width="1.60"/>
<line x1="400.10" y1="1260.20" x2="400.10" y2="1266.40" stroke="#cf0e34" stroke-width="1.60"/>
<line x1="413.70" y1="1260.20" x2="413.70" y2="1266.40" stroke="#cf0e34" stroke-width="1.60"/>
</g>
<g>
<text transform="translate(999.06 569.10) scale(1.0000 1.040)" font-size="46.90">H</text>
<text transform="translate(1163.53 578.10) scale(1.0000 1.040)" font-size="25.00">Tumor size ≥ 3cm</text>
<line x1="1085.30" y1="619.20" x2="1085.30" y2="871.10" stroke="#111" stroke-width="1.70"/>
<line x1="1084.50" y1="870.40" x2="1430.60" y2="870.40" stroke="#111" stroke-width="1.70"/>
<text transform="translate(1043.37 879.30) scale(1.0000 1.040)" font-size="25.00">0.0</text>
<text transform="translate(1043.35 829.22) scale(1.0000 1.040)" font-size="25.00">0.2</text>
<text transform="translate(1042.48 779.14) scale(1.0000 1.040)" font-size="25.00">0.4</text>
<text transform="translate(1043.25 729.06) scale(1.0000 1.040)" font-size="25.00">0.6</text>
<text transform="translate(1043.12 678.98) scale(1.0000 1.040)" font-size="25.00">0.8</text>
<text transform="translate(1043.37 628.90) scale(1.0000 1.040)" font-size="25.00">1.0</text>
<text transform="translate(1078.57 894.80) scale(1.0000 1.040)" font-size="25.00">0</text>
<text transform="translate(1140.21 894.80) scale(1.0000 1.040)" font-size="25.00">12</text>
<text transform="translate(1209.03 894.80) scale(1.0000 1.040)" font-size="25.00">24</text>
<text transform="translate(1278.46 894.80) scale(1.0000 1.040)" font-size="25.00">36</text>
<text transform="translate(1347.39 894.80) scale(1.0000 1.040)" font-size="25.00">48</text>
<text transform="translate(1416.15 894.80) scale(1.0000 1.040)" font-size="25.00">60</text>
<text transform="translate(1168.27 920.90) scale(1.0000 1.040)" font-size="25.00">Time (months)</text>
<text transform="translate(1032.80 837.64) rotate(-90) scale(1 1.040)" font-size="25.00">Overall survival</text>
<text transform="translate(1292.77 626.60) scale(1.0251 1)" font-size="14.68">SVEP1 expression</text>
<text transform="translate(1311.09 646.50) scale(1.0795 1)" font-size="13.95">Low expression</text>
<polyline points="1287.40,645.40 1297.70,645.40 1297.70,638.20 1308.00,638.20 1308.00,644.20" fill="none" stroke="#4a84c6" stroke-width="1.80"/>
<text transform="translate(1311.10 661.80) scale(1.0744 1)" font-size="13.95">High expression</text>
<polyline points="1287.40,660.70 1297.70,660.70 1297.70,653.50 1308.00,653.50 1308.00,659.50" fill="none" stroke="#cf0e34" stroke-width="1.80"/>
<text transform="translate(1311.10 677.80) scale(1.0686 1)" font-size="13.95">Low-censored</text>
<line x1="1286.40" y1="673.10" x2="1308.00" y2="673.10" stroke="#4a84c6" stroke-width="1.80"/>
<line x1="1297.70" y1="666.10" x2="1297.70" y2="680.10" stroke="#4a84c6" stroke-width="1.80"/>
<text transform="translate(1311.10 693.40) scale(1.0727 1)" font-size="13.95">High-censored</text>
<line x1="1286.40" y1="688.70" x2="1308.00" y2="688.70" stroke="#cf0e34" stroke-width="1.80"/>
<line x1="1297.70" y1="681.70" x2="1297.70" y2="695.70" stroke="#cf0e34" stroke-width="1.80"/>
<text transform="translate(1391.28 761.00) scale(1.0519 1)" font-size="13.66">(n=73)</text>
<text transform="translate(1382.08 841.90) scale(1.0521 1)" font-size="13.66">(n=101)</text>
<text transform="translate(1103.53 850.00) scale(1.0605 1)" font-size="13.95"><tspan style="font-style:italic">p</tspan>=0.246</text>
<polyline points="1085.30,620.00 1109.00,620.00 1109.40,620.00 1109.40,622.00 1114.40,622.00 1114.40,622.40 1115.60,622.40 1115.60,627.00 1116.80,627.00 1116.80,632.40 1122.20,632.40 1123.30,632.40 1123.30,634.70 1124.90,634.70 1124.90,637.80 1127.60,637.80 1127.60,640.10 1129.10,640.10 1129.10,644.70 1132.20,644.70 1133.30,644.70 1133.30,648.60 1135.70,648.60 1135.70,651.70 1136.80,651.70 1136.80,654.40 1142.20,654.40 1144.10,654.40 1144.10,657.10 1145.70,657.10 1145.70,659.40 1150.30,659.40 1151.80,659.40 1151.80,661.70 1154.20,661.70 1154.20,662.50 1156.50,662.50 1156.50,664.00 1159.60,664.00 1159.60,666.70 1161.10,666.70 1161.10,669.40 1162.60,669.40 1162.60,672.50 1164.20,672.50 1164.20,677.10 1168.00,677.10 1169.60,677.10 1169.60,679.40 1171.90,679.40 1171.90,681.70 1175.00,681.70 1175.00,682.10 1176.50,682.10 1176.50,684.80 1180.00,684.80 1180.00,687.10 1185.80,687.10 1185.80,688.30 1188.00,688.30 1188.00,691.00 1190.40,691.00 1190.40,694.40 1193.00,694.40 1193.00,699.00 1196.50,699.00 1196.50,703.60 1208.80,703.60 1211.00,703.60 1211.00,707.00 1214.90,707.00 1214.90,711.20 1228.70,711.20 1231.00,711.20 1231.00,715.00 1234.80,715.00 1234.80,718.90 1238.00,718.90 1238.00,722.00 1240.90,722.00 1240.90,725.00 1243.00,725.00 1243.00,730.00 1245.50,730.00 1245.50,734.20 1250.10,734.20 1250.10,738.80 1253.00,738.80 1253.00,742.00 1256.20,742.00 1256.20,744.90 1259.30,744.90 1259.30,749.50 1262.00,749.50 1262.00,752.00 1265.40,752.00 1265.40,754.10 1283.80,754.10 1288.00,754.10 1288.00,755.50 1292.90,755.50 1292.90,757.10 1296.00,757.10 1296.00,761.70 1299.00,761.70 1299.00,765.00 1302.10,765.00 1302.10,767.90 1305.00,767.90 1305.00,771.00 1308.20,771.00 1308.20,775.50 1310.00,775.50 1310.00,780.00 1312.80,780.00 1312.80,784.70 1326.60,784.70 1326.60,786.20 1329.70,786.20 1329.70,790.80 1357.20,790.80 1360.00,790.80 1360.00,794.00 1363.30,794.00 1363.30,796.90 1372.50,796.90 1372.50,800.00 1397.00,800.00 1398.50,800.00 1398.50,807.60 1416.90,807.60 1421.50,807.60 1421.50,813.80 1423.90,813.80 1423.90,818.30 1430.60,818.30" fill="none" stroke="#4a84c6" stroke-width="1.75" stroke-linejoin="miter"/>
<polyline points="1085.30,620.00 1091.30,620.00 1091.30,623.10 1097.10,623.10 1098.30,623.10 1098.30,633.90 1100.60,633.90 1100.60,640.90 1102.90,640.90 1102.90,644.30 1109.40,644.30 1109.40,647.40 1112.90,647.40 1112.90,650.90 1118.30,650.90 1118.30,654.40 1133.30,654.40 1134.10,654.40 1134.10,658.60 1134.90,658.60 1134.90,661.30 1139.10,661.30 1139.10,664.40 1162.60,664.40 1164.20,664.40 1164.20,667.90 1166.50,667.90 1166.50,672.10 1168.80,672.10 1168.80,675.20 1171.10,675.20 1171.10,679.00 1173.40,679.00 1173.40,684.80 1174.20,684.80 1174.20,691.80 1177.30,691.80 1177.30,695.60 1211.80,695.60 1213.40,695.60 1213.40,705.10 1240.30,705.10 1242.00,705.10 1242.00,708.00 1244.00,708.00 1244.00,711.20 1247.00,711.20 1247.00,718.90 1260.80,718.90 1260.80,725.00 1265.40,725.00 1265.40,729.60 1297.50,729.60 1297.50,735.70 1306.70,735.70 1306.70,737.30 1311.30,737.30 1311.30,741.80 1315.90,741.80 1315.90,746.40 1326.60,746.40 1328.10,746.40 1328.10,754.10 1346.50,754.10 1349.50,754.10 1349.50,758.70 1357.20,758.70 1357.20,761.70 1363.30,761.70 1363.30,766.30 1373.00,766.30 1374.00,766.30 1374.00,774.00 1381.70,774.00 1383.20,774.00 1383.20,784.70 1388.00,784.70 1388.00,786.00 1391.00,786.00 1391.00,791.00 1393.90,791.00 1393.90,796.90 1413.80,796.90 1415.00,796.90 1415.00,800.00 1421.50,800.00 1421.50,803.00 1430.60,803.00 1430.60,804.60" fill="none" stroke="#cf0e34" stroke-width="1.75" stroke-linejoin="miter"/>
<line x1="1361.80" y1="758.60" x2="1361.80" y2="764.80" stroke="#cf0e34" stroke-width="1.60"/>
</g>
<g>
<text transform="translate(1496.19 569.10) scale(1.0000 1.040)" font-size="46.90">J</text>
<text transform="translate(1665.63 577.50) scale(1.0000 1.040)" font-size="25.00">Tumor size ≥ 3cm</text>
<line x1="1582.10" y1="617.70" x2="1582.10" y2="871.10" stroke="#111" stroke-width="1.70"/>
<line x1="1581.30" y1="870.40" x2="1927.90" y2="870.40" stroke="#111" stroke-width="1.70"/>
<text transform="translate(1542.57 879.30) scale(1.0000 1.040)" font-size="25.00">0.0</text>
<text transform="translate(1542.55 828.92) scale(1.0000 1.040)" font-size="25.00">0.2</text>
<text transform="translate(1541.68 778.54) scale(1.0000 1.040)" font-size="25.00">0.4</text>
<text transform="translate(1542.45 728.16) scale(1.0000 1.040)" font-size="25.00">0.6</text>
<text transform="translate(1542.32 677.78) scale(1.0000 1.040)" font-size="25.00">0.8</text>
<text transform="translate(1542.57 627.40) scale(1.0000 1.040)" font-size="25.00">1.0</text>
<text transform="translate(1575.47 894.80) scale(1.0000 1.040)" font-size="25.00">0</text>
<text transform="translate(1637.31 894.80) scale(1.0000 1.040)" font-size="25.00">12</text>
<text transform="translate(1706.33 894.80) scale(1.0000 1.040)" font-size="25.00">24</text>
<text transform="translate(1775.96 894.80) scale(1.0000 1.040)" font-size="25.00">36</text>
<text transform="translate(1845.09 894.80) scale(1.0000 1.040)" font-size="25.00">48</text>
<text transform="translate(1914.05 894.80) scale(1.0000 1.040)" font-size="25.00">60</text>
<text transform="translate(1668.12 922.40) scale(1.0000 1.040)" font-size="25.00">Time (months)</text>
<text transform="translate(1528.50 869.24) rotate(-90) scale(1 1.040)" font-size="25.00">Disease free survival</text>
<text transform="translate(1789.77 626.60) scale(1.0189 1)" font-size="14.68">SVEP1 expression</text>
<text transform="translate(1808.19 646.50) scale(1.0795 1)" font-size="13.95">Low expression</text>
<polyline points="1784.50,645.40 1794.80,645.40 1794.80,638.20 1805.10,638.20 1805.10,644.20" fill="none" stroke="#4a84c6" stroke-width="1.80"/>
<text transform="translate(1808.20 661.80) scale(1.0744 1)" font-size="13.95">High expression</text>
<polyline points="1784.50,660.70 1794.80,660.70 1794.80,653.50 1805.10,653.50 1805.10,659.50" fill="none" stroke="#cf0e34" stroke-width="1.80"/>
<text transform="translate(1808.20 677.80) scale(1.0686 1)" font-size="13.95">Low-censored</text>
<line x1="1783.50" y1="673.10" x2="1805.10" y2="673.10" stroke="#4a84c6" stroke-width="1.80"/>
<line x1="1794.80" y1="666.10" x2="1794.80" y2="680.10" stroke="#4a84c6" stroke-width="1.80"/>
<text transform="translate(1808.20 693.40) scale(1.0727 1)" font-size="13.95">High-censored</text>
<line x1="1783.50" y1="688.70" x2="1805.10" y2="688.70" stroke="#cf0e34" stroke-width="1.80"/>
<line x1="1794.80" y1="681.70" x2="1794.80" y2="695.70" stroke="#cf0e34" stroke-width="1.80"/>
<text transform="translate(1887.28 798.40) scale(1.0545 1)" font-size="13.66">(n=73)</text>
<text transform="translate(1878.78 858.60) scale(1.0521 1)" font-size="13.66">(n=101)</text>
<text transform="translate(1600.82 850.90) scale(1.0387 1)" font-size="13.95"><tspan style="font-style:italic">p</tspan>=0.041</text>
<polyline points="1582.10,618.30 1588.80,618.30 1588.80,622.20 1591.50,622.20 1591.50,625.00 1594.20,625.00 1594.20,628.20 1596.30,628.20 1596.30,633.50 1599.00,633.50 1599.00,638.40 1601.20,638.40 1601.20,646.50 1602.50,646.50 1602.50,652.00 1603.90,652.00 1603.90,657.80 1607.10,657.80 1607.10,658.40 1608.20,658.40 1608.20,666.00 1610.30,666.00 1610.30,671.30 1612.00,671.30 1612.00,676.00 1613.60,676.00 1613.60,680.50 1615.00,680.50 1615.00,684.50 1616.30,684.50 1616.30,688.60 1619.00,688.60 1619.00,694.00 1623.30,694.00 1623.30,698.30 1624.90,698.30 1624.90,707.00 1627.60,707.00 1627.60,709.10 1628.70,709.10 1628.70,713.40 1632.50,713.40 1632.50,715.60 1634.60,715.60 1634.60,719.90 1635.70,719.90 1635.70,728.00 1642.70,728.00 1644.90,728.00 1644.90,734.00 1650.20,734.00 1650.20,735.60 1651.90,735.60 1651.90,755.60 1656.70,755.60 1656.70,756.10 1658.60,756.10 1658.60,758.70 1661.00,758.70 1661.00,761.00 1664.70,761.00 1664.70,763.30 1668.00,763.30 1668.00,765.50 1670.80,765.50 1670.80,767.90 1673.90,767.90 1673.90,775.50 1677.00,775.50 1677.00,780.10 1686.10,780.10 1686.10,781.60 1689.20,781.60 1689.20,784.70 1693.80,784.70 1693.80,786.20 1696.80,786.20 1696.80,792.30 1703.00,792.30 1703.00,793.90 1712.20,793.90 1712.20,795.40 1713.70,795.40 1713.70,801.50 1719.80,801.50 1719.80,804.60 1724.40,804.60 1724.40,809.20 1732.10,809.20 1732.10,810.70 1735.10,810.70 1735.10,816.80 1738.20,816.80 1738.20,821.40 1741.20,821.40 1741.20,822.90 1759.60,822.90 1762.60,822.90 1762.60,829.00 1784.00,829.00 1784.00,830.60 1785.60,830.60 1785.60,832.10 1848.30,832.10 1849.80,832.10 1849.80,835.20 1865.10,835.20 1865.10,838.20 1927.90,838.20" fill="none" stroke="#4a84c6" stroke-width="1.75" stroke-linejoin="miter"/>
<polyline points="1582.10,618.30 1588.20,618.30 1588.20,618.50 1590.40,618.50 1590.40,635.20 1593.60,635.20 1594.20,635.20 1594.20,645.40 1595.30,645.40 1595.30,653.00 1597.40,653.00 1597.40,655.70 1599.00,655.70 1599.00,658.50 1600.60,658.50 1600.60,661.60 1603.90,661.60 1603.90,664.80 1606.60,664.80 1606.60,673.40 1609.80,673.40 1609.80,674.00 1611.40,674.00 1611.40,681.00 1614.10,681.00 1614.10,687.50 1615.20,687.50 1615.20,694.00 1619.00,694.00 1619.00,695.00 1622.20,695.00 1622.20,700.40 1629.20,700.40 1629.20,701.00 1630.80,701.00 1630.80,714.40 1646.50,714.40 1646.50,715.00 1647.00,715.00 1647.00,718.20 1665.30,718.20 1666.90,718.20 1666.90,722.00 1670.70,722.00 1670.70,728.40 1679.80,728.40 1679.80,729.00 1682.00,729.00 1682.00,732.80 1682.60,732.80 1682.60,742.50 1690.20,742.50 1690.20,743.00 1691.20,743.00 1691.20,749.50 1712.20,749.50 1713.10,749.50 1713.10,752.60 1732.10,752.60 1732.10,754.10 1732.10,757.10 1744.30,757.10 1745.80,757.10 1745.80,760.20 1761.10,760.20 1762.60,760.20 1762.60,770.90 1777.90,770.90 1779.50,770.90 1779.50,777.00 1784.00,777.00 1784.00,780.70 1799.40,780.70 1802.40,780.70 1802.40,784.70 1807.00,784.70 1807.00,787.70 1823.80,787.70 1823.80,790.80 1854.40,790.80 1856.00,790.80 1856.00,796.90 1866.70,796.90 1868.20,796.90 1868.20,801.50 1872.00,801.50 1872.00,803.00 1877.40,803.00 1877.40,804.60 1882.00,804.60 1882.00,809.20 1883.50,809.20 1883.50,813.20 1898.80,813.20 1900.30,813.20 1900.30,816.80 1908.00,816.80 1908.90,816.80 1908.90,820.80 1927.90,820.80" fill="none" stroke="#cf0e34" stroke-width="1.75" stroke-linejoin="miter"/>
<line x1="1856.50" y1="793.80" x2="1856.50" y2="800.00" stroke="#cf0e34" stroke-width="1.60"/>
</g>
<g>
<text transform="translate(1009.46 995.00) scale(1.0000 1.040)" font-size="46.90">I</text>
<text transform="translate(1157.16 1017.80) scale(1.0000 1.040)" font-size="24.35">Satellite nodules (+)</text>
<line x1="1084.70" y1="1057.90" x2="1084.70" y2="1311.70" stroke="#111" stroke-width="1.70"/>
<line x1="1083.90" y1="1311.00" x2="1430.00" y2="1311.00" stroke="#111" stroke-width="1.70"/>
<text transform="translate(1044.27 1319.90) scale(1.0000 1.040)" font-size="25.00">0.0</text>
<text transform="translate(1044.25 1269.44) scale(1.0000 1.040)" font-size="25.00">0.2</text>
<text transform="translate(1043.38 1218.98) scale(1.0000 1.040)" font-size="25.00">0.4</text>
<text transform="translate(1044.15 1168.52) scale(1.0000 1.040)" font-size="25.00">0.6</text>
<text transform="translate(1044.02 1118.06) scale(1.0000 1.040)" font-size="25.00">0.8</text>
<text transform="translate(1044.27 1067.60) scale(1.0000 1.040)" font-size="25.00">1.0</text>
<text transform="translate(1078.57 1334.10) scale(1.0000 1.040)" font-size="25.00">0</text>
<text transform="translate(1140.26 1334.10) scale(1.0000 1.040)" font-size="25.00">12</text>
<text transform="translate(1209.13 1334.10) scale(1.0000 1.040)" font-size="25.00">24</text>
<text transform="translate(1278.61 1334.10) scale(1.0000 1.040)" font-size="25.00">36</text>
<text transform="translate(1347.59 1334.10) scale(1.0000 1.040)" font-size="25.00">48</text>
<text transform="translate(1416.40 1334.10) scale(1.0000 1.040)" font-size="25.00">60</text>
<text transform="translate(1169.97 1364.40) scale(1.0000 1.040)" font-size="25.00">Time (months)</text>
<text transform="translate(1030.60 1278.44) rotate(-90) scale(1 1.040)" font-size="25.00">Overall survival</text>
<text transform="translate(1288.07 1066.80) scale(1.0212 1)" font-size="14.68">SVEP1 expression</text>
<text transform="translate(1306.49 1086.70) scale(1.0795 1)" font-size="13.95">Low expression</text>
<polyline points="1283.00,1085.60 1293.30,1085.60 1293.30,1078.40 1303.60,1078.40 1303.60,1084.40" fill="none" stroke="#4a84c6" stroke-width="1.80"/>
<text transform="translate(1306.50 1102.00) scale(1.0744 1)" font-size="13.95">High expression</text>
<polyline points="1283.00,1100.90 1293.30,1100.90 1293.30,1093.70 1303.60,1093.70 1303.60,1099.70" fill="none" stroke="#cf0e34" stroke-width="1.80"/>
<text transform="translate(1306.50 1118.00) scale(1.0686 1)" font-size="13.95">Low-censored</text>
<line x1="1282.00" y1="1113.30" x2="1303.60" y2="1113.30" stroke="#4a84c6" stroke-width="1.80"/>
<line x1="1293.30" y1="1106.30" x2="1293.30" y2="1120.30" stroke="#4a84c6" stroke-width="1.80"/>
<text transform="translate(1306.50 1133.60) scale(1.0727 1)" font-size="13.95">High-censored</text>
<line x1="1282.00" y1="1128.90" x2="1303.60" y2="1128.90" stroke="#cf0e34" stroke-width="1.80"/>
<line x1="1293.30" y1="1121.90" x2="1293.30" y2="1135.90" stroke="#cf0e34" stroke-width="1.80"/>
<text transform="translate(1394.99 1211.00) scale(1.0494 1)" font-size="13.66">(n=30)</text>
<text transform="translate(1393.98 1293.80) scale(1.0596 1)" font-size="13.66">(n=58)</text>
<text transform="translate(1103.22 1291.40) scale(1.0542 1)" font-size="13.95"><tspan style="font-style:italic">p</tspan>=0.105</text>
<polyline points="1084.80,1058.70 1114.90,1058.70 1117.90,1058.70 1117.90,1065.30 1120.00,1065.30 1120.00,1068.00 1122.40,1068.00 1122.40,1071.30 1124.00,1071.30 1124.00,1075.00 1125.40,1075.00 1125.40,1078.90 1127.00,1078.90 1127.00,1083.00 1128.40,1083.00 1128.40,1086.40 1130.00,1086.40 1130.00,1091.00 1131.40,1091.00 1131.40,1095.40 1133.80,1095.40 1133.80,1101.40 1145.00,1101.40 1145.00,1106.90 1158.50,1106.90 1161.50,1106.90 1161.50,1112.00 1163.90,1112.00 1163.90,1119.50 1167.00,1119.50 1167.00,1121.50 1170.60,1121.50 1170.60,1124.00 1173.60,1124.00 1173.60,1130.00 1176.00,1130.00 1176.00,1134.00 1178.10,1134.00 1178.10,1137.50 1188.60,1137.50 1188.60,1142.10 1191.00,1142.10 1191.00,1145.00 1194.60,1145.00 1194.60,1148.10 1197.60,1148.10 1197.60,1154.10 1214.20,1154.10 1215.10,1154.10 1215.10,1158.60 1227.70,1158.60 1230.70,1158.60 1230.70,1163.10 1233.80,1163.10 1233.80,1169.10 1236.00,1169.10 1236.00,1172.00 1238.30,1172.00 1238.30,1175.20 1241.30,1175.20 1241.30,1184.20 1244.30,1184.20 1244.30,1191.70 1246.50,1191.70 1246.50,1195.50 1248.80,1195.50 1248.80,1199.20 1253.30,1199.20 1253.30,1202.30 1258.00,1202.30 1258.00,1204.50 1263.90,1204.50 1263.90,1206.80 1283.40,1206.80 1286.40,1206.80 1286.40,1210.40 1292.00,1210.40 1292.00,1212.00 1297.00,1212.00 1297.00,1214.30 1300.00,1214.30 1300.00,1220.30 1303.00,1220.30 1303.00,1223.00 1306.00,1223.00 1306.00,1226.30 1308.00,1226.30 1308.00,1229.00 1310.50,1229.00 1310.50,1232.30 1313.50,1232.30 1313.50,1236.90 1327.00,1236.90 1327.00,1241.40 1363.10,1241.40 1364.60,1241.40 1364.60,1245.30 1375.20,1245.30 1375.20,1245.90 1376.70,1245.90 1376.70,1250.40 1397.80,1250.40 1397.80,1259.40 1417.30,1259.40 1418.80,1259.40 1418.80,1265.40 1423.30,1265.40 1423.30,1271.50 1430.00,1271.50" fill="none" stroke="#4a84c6" stroke-width="1.75" stroke-linejoin="miter"/>
<polyline points="1084.80,1058.70 1096.80,1058.70 1097.70,1058.70 1097.70,1065.30 1099.80,1065.30 1099.80,1075.30 1117.90,1075.30 1117.90,1083.40 1132.90,1083.40 1133.80,1083.40 1133.80,1092.40 1161.50,1092.40 1163.00,1092.40 1163.00,1099.90 1170.60,1099.90 1170.60,1108.10 1239.20,1108.10 1239.80,1108.10 1239.80,1116.50 1242.80,1116.50 1242.80,1124.90 1247.30,1124.90 1247.30,1133.90 1255.00,1133.90 1256.30,1133.90 1256.30,1142.10 1263.90,1142.10 1264.50,1142.10 1264.50,1151.10 1306.00,1151.10 1308.40,1151.10 1308.40,1159.20 1312.00,1159.20 1312.00,1167.00 1315.00,1167.00 1315.00,1176.00 1326.40,1176.00 1327.00,1176.00 1327.00,1184.20 1345.10,1184.20 1346.60,1184.20 1346.60,1192.30 1349.60,1192.30 1349.60,1201.30 1372.20,1201.30 1373.70,1201.30 1373.70,1209.80 1381.20,1209.80 1382.70,1209.80 1382.70,1218.20 1388.70,1218.20 1390.20,1218.20 1390.20,1226.30 1391.70,1226.30 1391.70,1235.40 1408.30,1235.40 1408.90,1235.40 1408.90,1243.50 1430.00,1243.50" fill="none" stroke="#cf0e34" stroke-width="1.75" stroke-linejoin="miter"/>
</g>
<g>
<text transform="translate(1491.46 995.00) scale(1.0000 1.040)" font-size="46.90">K</text>
<text transform="translate(1654.26 1017.80) scale(1.0000 1.040)" font-size="24.35">Satellite nodules (+)</text>
<line x1="1579.70" y1="1057.90" x2="1579.70" y2="1311.70" stroke="#111" stroke-width="1.70"/>
<line x1="1578.90" y1="1311.00" x2="1924.90" y2="1311.00" stroke="#111" stroke-width="1.70"/>
<text transform="translate(1540.27 1319.90) scale(1.0000 1.040)" font-size="25.00">0.0</text>
<text transform="translate(1540.25 1269.44) scale(1.0000 1.040)" font-size="25.00">0.2</text>
<text transform="translate(1539.38 1218.98) scale(1.0000 1.040)" font-size="25.00">0.4</text>
<text transform="translate(1540.15 1168.52) scale(1.0000 1.040)" font-size="25.00">0.6</text>
<text transform="translate(1540.02 1118.06) scale(1.0000 1.040)" font-size="25.00">0.8</text>
<text transform="translate(1540.27 1067.60) scale(1.0000 1.040)" font-size="25.00">1.0</text>
<text transform="translate(1573.37 1334.10) scale(1.0000 1.040)" font-size="25.00">0</text>
<text transform="translate(1635.11 1334.10) scale(1.0000 1.040)" font-size="25.00">12</text>
<text transform="translate(1704.03 1334.10) scale(1.0000 1.040)" font-size="25.00">24</text>
<text transform="translate(1773.56 1334.10) scale(1.0000 1.040)" font-size="25.00">36</text>
<text transform="translate(1842.59 1334.10) scale(1.0000 1.040)" font-size="25.00">48</text>
<text transform="translate(1911.45 1334.10) scale(1.0000 1.040)" font-size="25.00">60</text>
<text transform="translate(1665.37 1364.40) scale(1.0000 1.040)" font-size="25.00">Time (months)</text>
<text transform="translate(1526.20 1309.24) rotate(-90) scale(1 1.040)" font-size="25.00">Disease free survival</text>
<text transform="translate(1787.57 1066.80) scale(1.0259 1)" font-size="14.68">SVEP1 expression</text>
<text transform="translate(1805.99 1086.70) scale(1.0795 1)" font-size="13.95">Low expression</text>
<polyline points="1782.00,1085.60 1792.30,1085.60 1792.30,1078.40 1802.60,1078.40 1802.60,1084.40" fill="none" stroke="#4a84c6" stroke-width="1.80"/>
<text transform="translate(1806.00 1102.00) scale(1.0744 1)" font-size="13.95">High expression</text>
<polyline points="1782.00,1100.90 1792.30,1100.90 1792.30,1093.70 1802.60,1093.70 1802.60,1099.70" fill="none" stroke="#cf0e34" stroke-width="1.80"/>
<text transform="translate(1806.00 1118.00) scale(1.0686 1)" font-size="13.95">Low-censored</text>
<line x1="1781.00" y1="1113.30" x2="1802.60" y2="1113.30" stroke="#4a84c6" stroke-width="1.80"/>
<line x1="1792.30" y1="1106.30" x2="1792.30" y2="1120.30" stroke="#4a84c6" stroke-width="1.80"/>
<text transform="translate(1806.00 1133.60) scale(1.0727 1)" font-size="13.95">High-censored</text>
<line x1="1781.00" y1="1128.90" x2="1802.60" y2="1128.90" stroke="#cf0e34" stroke-width="1.80"/>
<line x1="1792.30" y1="1121.90" x2="1792.30" y2="1135.90" stroke="#cf0e34" stroke-width="1.80"/>
<text transform="translate(1885.99 1241.80) scale(1.0494 1)" font-size="13.66">(n=30)</text>
<text transform="translate(1885.99 1302.00) scale(1.0494 1)" font-size="13.66">(n=58)</text>
<text transform="translate(1598.72 1291.50) scale(1.0503 1)" font-size="13.95"><tspan style="font-style:italic">p</tspan>=0.021</text>
<polyline points="1579.70,1058.70 1584.80,1058.70 1584.80,1062.30 1587.80,1062.30 1587.80,1066.80 1592.40,1066.80 1592.40,1071.30 1595.40,1071.30 1595.40,1080.40 1598.40,1080.40 1598.40,1089.40 1600.50,1089.40 1600.50,1094.00 1602.90,1094.00 1602.90,1098.40 1605.90,1098.40 1605.90,1107.50 1608.90,1107.50 1608.90,1116.50 1611.90,1116.50 1611.90,1125.50 1614.00,1125.50 1614.00,1131.00 1616.40,1131.00 1616.40,1137.50 1619.40,1137.50 1619.40,1146.60 1621.50,1146.60 1621.50,1152.00 1624.00,1152.00 1624.00,1158.60 1630.00,1158.60 1630.00,1160.10 1633.00,1160.10 1633.00,1167.60 1636.00,1167.60 1636.00,1172.20 1640.50,1172.20 1643.50,1172.20 1643.50,1176.70 1646.50,1176.70 1646.50,1181.20 1649.50,1181.20 1649.50,1190.20 1654.10,1190.20 1654.10,1194.70 1658.60,1194.70 1658.60,1199.20 1661.00,1199.20 1661.00,1203.00 1663.10,1203.00 1663.10,1206.80 1664.60,1206.80 1664.60,1211.30 1670.60,1211.30 1673.60,1211.30 1673.60,1218.80 1676.60,1218.80 1676.60,1226.30 1679.60,1226.30 1679.60,1229.30 1682.50,1229.30 1682.50,1231.50 1685.70,1231.50 1685.70,1233.90 1688.50,1233.90 1688.50,1237.50 1691.70,1237.50 1691.70,1241.40 1694.70,1241.40 1694.70,1245.90 1700.70,1245.90 1700.70,1250.40 1709.70,1250.40 1709.70,1254.90 1715.70,1254.90 1715.70,1259.40 1720.30,1259.40 1720.30,1264.00 1723.30,1264.00 1723.30,1267.50 1738.30,1267.50 1739.20,1267.50 1739.20,1271.50 1759.40,1271.50 1760.30,1271.50 1760.30,1276.00 1845.10,1276.00 1846.60,1276.00 1846.60,1280.50 1861.70,1280.50 1863.20,1280.50 1863.20,1285.00 1924.90,1285.00" fill="none" stroke="#4a84c6" stroke-width="1.75" stroke-linejoin="miter"/>
<polyline points="1579.70,1058.70 1587.80,1058.70 1588.80,1058.70 1588.80,1066.80 1590.90,1066.80 1590.90,1075.80 1591.80,1075.80 1591.80,1092.40 1604.40,1092.40 1605.00,1092.40 1605.00,1100.80 1627.00,1100.80 1628.50,1100.80 1628.50,1113.50 1629.10,1113.50 1629.10,1134.50 1670.00,1134.50 1670.60,1134.50 1670.60,1142.10 1676.00,1142.10 1677.20,1142.10 1677.20,1151.10 1679.60,1151.10 1679.60,1158.60 1680.20,1158.60 1680.20,1167.60 1709.70,1167.60 1710.30,1167.60 1710.30,1176.00 1729.30,1176.00 1730.20,1176.00 1730.20,1184.20 1742.20,1184.20 1742.80,1184.20 1742.80,1192.60 1757.90,1192.60 1758.50,1192.60 1758.50,1201.30 1774.40,1201.30 1775.90,1201.30 1775.90,1209.80 1777.40,1209.80 1777.40,1218.20 1781.40,1218.20 1782.00,1218.20 1782.00,1226.30 1804.50,1226.30 1805.40,1226.30 1805.40,1234.50 1816.60,1234.50 1817.50,1234.50 1817.50,1243.50 1865.60,1243.50 1866.20,1243.50 1866.20,1251.90 1876.10,1251.90 1876.70,1251.90 1876.70,1260.30 1924.90,1260.30" fill="none" stroke="#cf0e34" stroke-width="1.75" stroke-linejoin="miter"/>
</g>
</svg>
</body></html>
